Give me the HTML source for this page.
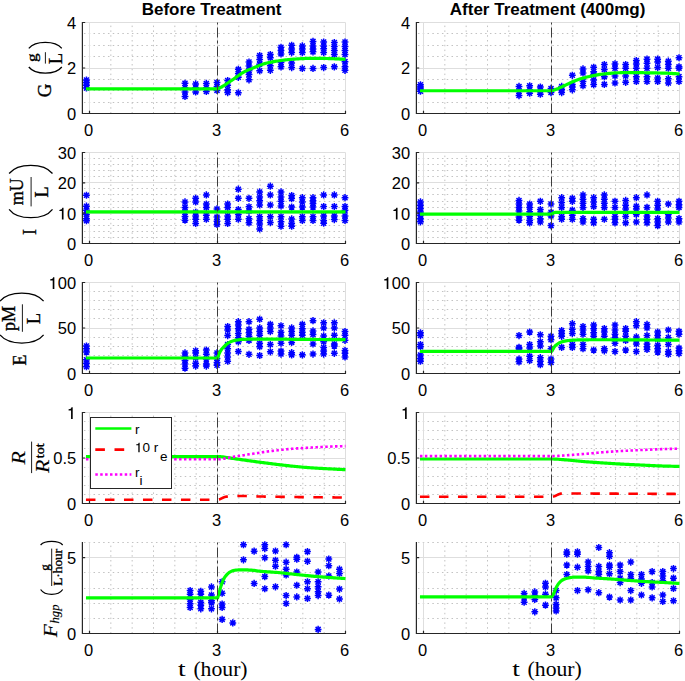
<!DOCTYPE html>
<html><head><meta charset="utf-8"><style>
html,body{margin:0;padding:0;background:#fff;width:685px;height:681px;overflow:hidden}
svg{display:block}
.tk{font-family:"Liberation Sans",sans-serif;font-size:16.5px;fill:#000}
.ttl{font-family:"Liberation Sans",sans-serif;font-size:17px;font-weight:bold;fill:#000}
.tx{font-family:"Liberation Serif",serif;fill:#000;stroke:#000;stroke-width:0.35px}
.tx2{font-family:"Liberation Serif",serif;fill:#000}
.lg{font-family:"Liberation Sans",sans-serif;font-size:13.5px;fill:#000}
</style></head><body>
<svg width="685" height="681" viewBox="0 0 685 681">
<defs><path id="m" d="M-3.4,0H3.4M0,-3.6V3.6M-2.5,-2.5L2.5,2.5M-2.5,2.5L2.5,-2.5" stroke="#0000ff" stroke-width="1.5" fill="none"/></defs>
<rect width="685" height="681" fill="#fff"/>
<path d="M82.39,102.50H345.50M82.39,90.50H345.50M82.39,79.50H345.50M82.39,56.50H345.50M82.39,45.50H345.50M82.39,33.50H345.50" stroke="#c2c2c2" stroke-width="1" stroke-dasharray="1.5 3.3" stroke-dashoffset="-1.55" fill="none"/>
<path d="M110.83,113.50V22.50M132.17,113.50V22.50M153.50,113.50V22.50M174.83,113.50V22.50M196.17,113.50V22.50M238.83,113.50V22.50M260.17,113.50V22.50M281.50,113.50V22.50M302.83,113.50V22.50M324.17,113.50V22.50" stroke="#c2c2c2" stroke-width="1" stroke-dasharray="1.5 3.3" fill="none"/>
<path d="M82.39,68.50H345.50M82.39,22.50H345.50M89.50,113.50V22.50M217.50,113.50V22.50M345.50,113.50V22.50" stroke="#dedede" stroke-width="1" fill="none"/>
<use href="#m" x="86.44" y="80.06"/><use href="#m" x="86.44" y="82.56"/><use href="#m" x="86.44" y="85.29"/><use href="#m" x="86.44" y="88.02"/><use href="#m" x="185.00" y="83.24"/><use href="#m" x="185.00" y="87.79"/><use href="#m" x="185.00" y="91.89"/><use href="#m" x="185.00" y="96.44"/><use href="#m" x="195.67" y="83.92"/><use href="#m" x="195.67" y="87.79"/><use href="#m" x="195.67" y="91.89"/><use href="#m" x="206.33" y="83.47"/><use href="#m" x="206.33" y="87.79"/><use href="#m" x="206.33" y="91.43"/><use href="#m" x="217.00" y="82.56"/><use href="#m" x="217.00" y="86.43"/><use href="#m" x="217.00" y="90.52"/><use href="#m" x="227.67" y="80.51"/><use href="#m" x="227.67" y="85.29"/><use href="#m" x="227.67" y="89.84"/><use href="#m" x="227.67" y="92.57"/><use href="#m" x="238.33" y="69.37"/><use href="#m" x="238.33" y="73.46"/><use href="#m" x="238.33" y="77.33"/><use href="#m" x="238.33" y="92.80"/><use href="#m" x="249.00" y="62.09"/><use href="#m" x="249.00" y="65.95"/><use href="#m" x="249.00" y="70.73"/><use href="#m" x="249.00" y="74.60"/><use href="#m" x="249.00" y="79.83"/><use href="#m" x="259.67" y="55.49"/><use href="#m" x="259.67" y="59.58"/><use href="#m" x="259.67" y="64.13"/><use href="#m" x="259.67" y="70.73"/><use href="#m" x="270.33" y="54.58"/><use href="#m" x="270.33" y="57.76"/><use href="#m" x="270.33" y="65.72"/><use href="#m" x="270.33" y="70.28"/><use href="#m" x="281.00" y="47.30"/><use href="#m" x="281.00" y="50.48"/><use href="#m" x="281.00" y="53.89"/><use href="#m" x="281.00" y="62.54"/><use href="#m" x="281.00" y="66.86"/><use href="#m" x="291.67" y="45.25"/><use href="#m" x="291.67" y="49.12"/><use href="#m" x="291.67" y="52.53"/><use href="#m" x="291.67" y="62.99"/><use href="#m" x="291.67" y="67.55"/><use href="#m" x="302.33" y="45.93"/><use href="#m" x="302.33" y="49.12"/><use href="#m" x="302.33" y="52.53"/><use href="#m" x="302.33" y="68.45"/><use href="#m" x="313.00" y="41.38"/><use href="#m" x="313.00" y="45.93"/><use href="#m" x="313.00" y="49.12"/><use href="#m" x="313.00" y="51.85"/><use href="#m" x="313.00" y="68.45"/><use href="#m" x="323.67" y="42.06"/><use href="#m" x="323.67" y="45.93"/><use href="#m" x="323.67" y="48.66"/><use href="#m" x="323.67" y="52.53"/><use href="#m" x="323.67" y="67.55"/><use href="#m" x="334.33" y="42.52"/><use href="#m" x="334.33" y="46.61"/><use href="#m" x="334.33" y="50.48"/><use href="#m" x="334.33" y="54.58"/><use href="#m" x="334.33" y="66.86"/><use href="#m" x="345.00" y="42.06"/><use href="#m" x="345.00" y="46.61"/><use href="#m" x="345.00" y="50.48"/><use href="#m" x="345.00" y="54.58"/><use href="#m" x="345.00" y="61.63"/><use href="#m" x="345.00" y="66.86"/><use href="#m" x="345.00" y="70.28"/>
<path d="M85.96,88.82 L87.26,88.82 L88.57,88.82 L89.87,88.82 L91.18,88.82 L92.48,88.82 L93.78,88.82 L95.09,88.82 L96.39,88.82 L97.70,88.82 L99.00,88.82 L100.31,88.82 L101.61,88.82 L102.91,88.82 L104.22,88.82 L105.52,88.82 L106.83,88.82 L108.13,88.82 L109.43,88.82 L110.74,88.82 L112.04,88.82 L113.35,88.82 L114.65,88.82 L115.96,88.82 L117.26,88.82 L118.56,88.82 L119.87,88.82 L121.17,88.82 L122.48,88.82 L123.78,88.82 L125.09,88.82 L126.39,88.82 L127.69,88.82 L129.00,88.82 L130.30,88.82 L131.61,88.82 L132.91,88.82 L134.22,88.82 L135.52,88.82 L136.82,88.82 L138.13,88.82 L139.43,88.82 L140.74,88.82 L142.04,88.82 L143.34,88.82 L144.65,88.82 L145.95,88.82 L147.26,88.82 L148.56,88.82 L149.87,88.82 L151.17,88.82 L152.47,88.82 L153.78,88.82 L155.08,88.82 L156.39,88.82 L157.69,88.82 L159.00,88.82 L160.30,88.82 L161.60,88.82 L162.91,88.82 L164.21,88.82 L165.52,88.82 L166.82,88.82 L168.13,88.82 L169.43,88.82 L170.73,88.82 L172.04,88.82 L173.34,88.82 L174.65,88.82 L175.95,88.82 L177.25,88.82 L178.56,88.82 L179.86,88.82 L181.17,88.82 L182.47,88.82 L183.78,88.82 L185.08,88.82 L186.38,88.82 L187.69,88.82 L188.99,88.82 L190.30,88.82 L191.60,88.82 L192.91,88.82 L194.21,88.82 L195.51,88.82 L196.82,88.82 L198.12,88.82 L199.43,88.82 L200.73,88.82 L202.03,88.82 L203.34,88.82 L204.64,88.82 L205.95,88.82 L207.25,88.82 L208.56,88.82 L209.86,88.82 L211.16,88.82 L212.47,88.82 L213.77,88.82 L215.08,88.82 L216.38,88.82 L217.69,88.81 L218.99,88.40 L220.29,87.67 L221.60,86.98 L222.90,86.22 L224.21,85.42 L225.51,84.57 L226.82,83.69 L228.12,82.79 L229.42,81.89 L230.73,81.01 L232.03,80.12 L233.34,79.23 L234.64,78.32 L235.94,77.41 L237.25,76.46 L238.55,75.49 L239.86,74.56 L241.16,73.70 L242.47,72.90 L243.77,72.14 L245.07,71.43 L246.38,70.77 L247.68,70.17 L248.99,69.63 L250.29,69.13 L251.60,68.64 L252.90,68.12 L254.20,67.58 L255.51,67.03 L256.81,66.47 L258.12,65.92 L259.42,65.39 L260.73,64.88 L262.03,64.41 L263.33,63.99 L264.64,63.62 L265.94,63.29 L267.25,62.97 L268.55,62.67 L269.85,62.39 L271.16,62.12 L272.46,61.86 L273.77,61.62 L275.07,61.39 L276.38,61.17 L277.68,60.97 L278.98,60.77 L280.29,60.59 L281.59,60.41 L282.90,60.24 L284.20,60.07 L285.51,59.92 L286.81,59.77 L288.11,59.62 L289.42,59.49 L290.72,59.37 L292.03,59.26 L293.33,59.16 L294.64,59.08 L295.94,58.99 L297.24,58.90 L298.55,58.82 L299.85,58.74 L301.16,58.67 L302.46,58.60 L303.76,58.54 L305.07,58.50 L306.37,58.46 L307.68,58.45 L308.98,58.45 L310.29,58.45 L311.59,58.45 L312.89,58.45 L314.20,58.45 L315.50,58.45 L316.81,58.45 L318.11,58.45 L319.42,58.45 L320.72,58.45 L322.02,58.45 L323.33,58.45 L324.63,58.46 L325.94,58.48 L327.24,58.51 L328.55,58.54 L329.85,58.59 L331.15,58.64 L332.46,58.69 L333.76,58.74 L335.07,58.80 L336.37,58.86 L337.67,58.91 L338.98,58.97 L340.28,59.04 L341.59,59.11 L342.89,59.19 L344.20,59.27 L345.50,59.36" stroke="#00ff00" stroke-width="3.2" fill="none"/>
<path d="M217.50,113.50V22.50" stroke="#3c3c3c" stroke-width="1" stroke-dasharray="10 3 3 3" fill="none"/>
<path d="M82.39,22.00V113.50H346.00" stroke="#262626" stroke-width="1.2" fill="none"/>
<path d="M82.39,113.50h2.8M82.39,68.00h2.8M82.39,22.50h2.8M89.50,113.50v-2.8M217.50,113.50v-2.8M345.50,113.50v-2.8" stroke="#262626" stroke-width="1.2" fill="none"/>
<text x="76.19" y="119.90" text-anchor="end" class="tk">0</text>
<text x="76.19" y="74.40" text-anchor="end" class="tk">2</text>
<text x="76.19" y="28.90" text-anchor="end" class="tk">4</text>
<text x="88.70" y="135.90" text-anchor="middle" class="tk">0</text>
<text x="216.70" y="135.90" text-anchor="middle" class="tk">3</text>
<text x="344.70" y="135.90" text-anchor="middle" class="tk">6</text>
<path d="M416.39,102.50H679.50M416.39,90.50H679.50M416.39,79.50H679.50M416.39,56.50H679.50M416.39,45.50H679.50M416.39,33.50H679.50" stroke="#c2c2c2" stroke-width="1" stroke-dasharray="1.5 3.3" stroke-dashoffset="-1.55" fill="none"/>
<path d="M444.83,113.50V22.50M466.17,113.50V22.50M487.50,113.50V22.50M508.83,113.50V22.50M530.17,113.50V22.50M572.83,113.50V22.50M594.17,113.50V22.50M615.50,113.50V22.50M636.83,113.50V22.50M658.17,113.50V22.50" stroke="#c2c2c2" stroke-width="1" stroke-dasharray="1.5 3.3" fill="none"/>
<path d="M416.39,68.50H679.50M416.39,22.50H679.50M423.50,113.50V22.50M551.50,113.50V22.50M679.50,113.50V22.50" stroke="#dedede" stroke-width="1" fill="none"/>
<use href="#m" x="420.44" y="84.84"/><use href="#m" x="420.44" y="86.88"/><use href="#m" x="420.44" y="88.93"/><use href="#m" x="420.44" y="91.20"/><use href="#m" x="519.00" y="86.43"/><use href="#m" x="519.00" y="91.43"/><use href="#m" x="519.00" y="95.53"/><use href="#m" x="529.67" y="85.75"/><use href="#m" x="529.67" y="89.84"/><use href="#m" x="529.67" y="93.25"/><use href="#m" x="540.33" y="87.11"/><use href="#m" x="540.33" y="90.75"/><use href="#m" x="540.33" y="94.16"/><use href="#m" x="551.00" y="88.47"/><use href="#m" x="551.00" y="92.57"/><use href="#m" x="561.67" y="86.43"/><use href="#m" x="561.67" y="89.84"/><use href="#m" x="561.67" y="92.57"/><use href="#m" x="572.33" y="75.28"/><use href="#m" x="572.33" y="84.38"/><use href="#m" x="572.33" y="87.11"/><use href="#m" x="572.33" y="89.84"/><use href="#m" x="583.00" y="68.91"/><use href="#m" x="583.00" y="73.00"/><use href="#m" x="583.00" y="81.42"/><use href="#m" x="583.00" y="85.75"/><use href="#m" x="593.67" y="67.32"/><use href="#m" x="593.67" y="71.64"/><use href="#m" x="593.67" y="74.60"/><use href="#m" x="593.67" y="80.06"/><use href="#m" x="593.67" y="84.61"/><use href="#m" x="604.33" y="64.59"/><use href="#m" x="604.33" y="69.59"/><use href="#m" x="604.33" y="76.64"/><use href="#m" x="604.33" y="84.38"/><use href="#m" x="615.00" y="63.90"/><use href="#m" x="615.00" y="68.23"/><use href="#m" x="615.00" y="75.96"/><use href="#m" x="615.00" y="83.02"/><use href="#m" x="625.67" y="64.59"/><use href="#m" x="625.67" y="68.23"/><use href="#m" x="625.67" y="75.96"/><use href="#m" x="625.67" y="82.33"/><use href="#m" x="636.33" y="60.49"/><use href="#m" x="636.33" y="63.90"/><use href="#m" x="636.33" y="68.23"/><use href="#m" x="636.33" y="76.64"/><use href="#m" x="636.33" y="81.42"/><use href="#m" x="647.00" y="59.13"/><use href="#m" x="647.00" y="63.22"/><use href="#m" x="647.00" y="68.23"/><use href="#m" x="647.00" y="76.64"/><use href="#m" x="647.00" y="81.42"/><use href="#m" x="657.67" y="59.13"/><use href="#m" x="657.67" y="62.09"/><use href="#m" x="657.67" y="67.55"/><use href="#m" x="657.67" y="78.01"/><use href="#m" x="657.67" y="81.42"/><use href="#m" x="668.33" y="61.18"/><use href="#m" x="668.33" y="64.59"/><use href="#m" x="668.33" y="68.23"/><use href="#m" x="668.33" y="78.69"/><use href="#m" x="668.33" y="83.02"/><use href="#m" x="679.00" y="57.76"/><use href="#m" x="679.00" y="66.86"/><use href="#m" x="679.00" y="68.23"/><use href="#m" x="679.00" y="76.64"/><use href="#m" x="679.00" y="81.42"/>
<path d="M419.96,90.75 L421.26,90.75 L422.57,90.75 L423.87,90.75 L425.18,90.75 L426.48,90.75 L427.78,90.75 L429.09,90.75 L430.39,90.75 L431.70,90.75 L433.00,90.75 L434.31,90.75 L435.61,90.75 L436.91,90.75 L438.22,90.75 L439.52,90.75 L440.83,90.75 L442.13,90.75 L443.43,90.75 L444.74,90.75 L446.04,90.75 L447.35,90.75 L448.65,90.75 L449.96,90.75 L451.26,90.75 L452.56,90.75 L453.87,90.75 L455.17,90.75 L456.48,90.75 L457.78,90.75 L459.09,90.75 L460.39,90.75 L461.69,90.75 L463.00,90.75 L464.30,90.75 L465.61,90.75 L466.91,90.75 L468.22,90.75 L469.52,90.75 L470.82,90.75 L472.13,90.75 L473.43,90.75 L474.74,90.75 L476.04,90.75 L477.34,90.75 L478.65,90.75 L479.95,90.75 L481.26,90.75 L482.56,90.75 L483.87,90.75 L485.17,90.75 L486.47,90.75 L487.78,90.75 L489.08,90.75 L490.39,90.75 L491.69,90.75 L493.00,90.75 L494.30,90.75 L495.60,90.75 L496.91,90.75 L498.21,90.75 L499.52,90.75 L500.82,90.75 L502.13,90.75 L503.43,90.75 L504.73,90.75 L506.04,90.75 L507.34,90.75 L508.65,90.75 L509.95,90.75 L511.25,90.75 L512.56,90.75 L513.86,90.75 L515.17,90.75 L516.47,90.75 L517.78,90.75 L519.08,90.75 L520.38,90.75 L521.69,90.75 L522.99,90.75 L524.30,90.75 L525.60,90.75 L526.91,90.75 L528.21,90.75 L529.51,90.75 L530.82,90.75 L532.12,90.75 L533.43,90.75 L534.73,90.75 L536.03,90.75 L537.34,90.75 L538.64,90.75 L539.95,90.75 L541.25,90.75 L542.56,90.75 L543.86,90.75 L545.16,90.75 L546.47,90.75 L547.77,90.75 L549.08,90.75 L550.38,90.75 L551.69,90.75 L552.99,90.54 L554.29,90.09 L555.60,89.54 L556.90,88.99 L558.21,88.46 L559.51,87.89 L560.82,87.28 L562.12,86.68 L563.42,86.07 L564.73,85.46 L566.03,84.84 L567.34,84.23 L568.64,83.61 L569.94,82.98 L571.25,82.36 L572.55,81.77 L573.86,81.21 L575.16,80.66 L576.47,80.14 L577.77,79.66 L579.07,79.24 L580.38,78.86 L581.68,78.50 L582.99,78.15 L584.29,77.79 L585.60,77.43 L586.90,77.08 L588.20,76.75 L589.51,76.43 L590.81,76.13 L592.12,75.84 L593.42,75.57 L594.73,75.31 L596.03,75.07 L597.33,74.84 L598.64,74.63 L599.94,74.44 L601.25,74.27 L602.55,74.12 L603.85,73.97 L605.16,73.84 L606.46,73.70 L607.77,73.56 L609.07,73.43 L610.38,73.30 L611.68,73.18 L612.98,73.07 L614.29,72.97 L615.59,72.88 L616.90,72.82 L618.20,72.77 L619.51,72.74 L620.81,72.70 L622.11,72.67 L623.42,72.64 L624.72,72.62 L626.03,72.60 L627.33,72.58 L628.64,72.56 L629.94,72.55 L631.24,72.55 L632.55,72.55 L633.85,72.56 L635.16,72.57 L636.46,72.59 L637.76,72.62 L639.07,72.64 L640.37,72.67 L641.68,72.70 L642.98,72.72 L644.29,72.75 L645.59,72.77 L646.89,72.79 L648.20,72.81 L649.50,72.83 L650.81,72.85 L652.11,72.87 L653.42,72.89 L654.72,72.91 L656.02,72.93 L657.33,72.95 L658.63,72.98 L659.94,73.01 L661.24,73.04 L662.55,73.08 L663.85,73.12 L665.15,73.17 L666.46,73.22 L667.76,73.27 L669.07,73.33 L670.37,73.39 L671.67,73.46 L672.98,73.53 L674.28,73.60 L675.59,73.68 L676.89,73.75 L678.20,73.83 L679.50,73.91" stroke="#00ff00" stroke-width="3.2" fill="none"/>
<path d="M551.50,113.50V22.50" stroke="#3c3c3c" stroke-width="1" stroke-dasharray="10 3 3 3" fill="none"/>
<path d="M416.39,22.00V113.50H680.00" stroke="#262626" stroke-width="1.2" fill="none"/>
<path d="M416.39,113.50h2.8M416.39,68.00h2.8M416.39,22.50h2.8M423.50,113.50v-2.8M551.50,113.50v-2.8M679.50,113.50v-2.8" stroke="#262626" stroke-width="1.2" fill="none"/>
<text x="410.19" y="119.90" text-anchor="end" class="tk">0</text>
<text x="410.19" y="74.40" text-anchor="end" class="tk">2</text>
<text x="410.19" y="28.90" text-anchor="end" class="tk">4</text>
<text x="422.70" y="135.90" text-anchor="middle" class="tk">0</text>
<text x="550.70" y="135.90" text-anchor="middle" class="tk">3</text>
<text x="678.70" y="135.90" text-anchor="middle" class="tk">6</text>
<path d="M82.39,237.50H345.50M82.39,231.50H345.50M82.39,225.50H345.50M82.39,219.50H345.50M82.39,207.50H345.50M82.39,201.50H345.50M82.39,194.50H345.50M82.39,188.50H345.50M82.39,176.50H345.50M82.39,170.50H345.50M82.39,164.50H345.50M82.39,158.50H345.50" stroke="#c2c2c2" stroke-width="1" stroke-dasharray="1.5 3.3" stroke-dashoffset="-1.55" fill="none"/>
<path d="M110.83,243.50V152.50M132.17,243.50V152.50M153.50,243.50V152.50M174.83,243.50V152.50M196.17,243.50V152.50M238.83,243.50V152.50M260.17,243.50V152.50M281.50,243.50V152.50M302.83,243.50V152.50M324.17,243.50V152.50" stroke="#c2c2c2" stroke-width="1" stroke-dasharray="1.5 3.3" fill="none"/>
<path d="M82.39,213.50H345.50M82.39,182.50H345.50M82.39,152.50H345.50M89.50,243.50V152.50M217.50,243.50V152.50M345.50,243.50V152.50" stroke="#dedede" stroke-width="1" fill="none"/>
<use href="#m" x="86.44" y="195.27"/><use href="#m" x="86.44" y="206.19"/><use href="#m" x="86.44" y="210.13"/><use href="#m" x="86.44" y="214.38"/><use href="#m" x="86.44" y="218.63"/><use href="#m" x="86.44" y="220.75"/><use href="#m" x="185.00" y="201.94"/><use href="#m" x="185.00" y="207.40"/><use href="#m" x="185.00" y="212.26"/><use href="#m" x="185.00" y="216.50"/><use href="#m" x="185.00" y="220.14"/><use href="#m" x="195.67" y="198.30"/><use href="#m" x="195.67" y="201.94"/><use href="#m" x="195.67" y="212.26"/><use href="#m" x="195.67" y="215.90"/><use href="#m" x="195.67" y="219.23"/><use href="#m" x="195.67" y="223.48"/><use href="#m" x="206.33" y="194.97"/><use href="#m" x="206.33" y="204.07"/><use href="#m" x="206.33" y="207.40"/><use href="#m" x="206.33" y="215.29"/><use href="#m" x="206.33" y="219.23"/><use href="#m" x="217.00" y="208.92"/><use href="#m" x="217.00" y="217.11"/><use href="#m" x="217.00" y="221.36"/><use href="#m" x="217.00" y="224.39"/><use href="#m" x="227.67" y="204.07"/><use href="#m" x="227.67" y="207.40"/><use href="#m" x="227.67" y="215.90"/><use href="#m" x="227.67" y="219.23"/><use href="#m" x="227.67" y="223.48"/><use href="#m" x="238.33" y="189.20"/><use href="#m" x="238.33" y="198.30"/><use href="#m" x="238.33" y="209.53"/><use href="#m" x="238.33" y="214.38"/><use href="#m" x="238.33" y="219.23"/><use href="#m" x="249.00" y="198.30"/><use href="#m" x="249.00" y="206.80"/><use href="#m" x="249.00" y="211.04"/><use href="#m" x="249.00" y="218.63"/><use href="#m" x="249.00" y="222.87"/><use href="#m" x="259.67" y="191.93"/><use href="#m" x="259.67" y="197.09"/><use href="#m" x="259.67" y="200.73"/><use href="#m" x="259.67" y="204.98"/><use href="#m" x="259.67" y="216.81"/><use href="#m" x="259.67" y="220.45"/><use href="#m" x="259.67" y="224.09"/><use href="#m" x="259.67" y="228.94"/><use href="#m" x="270.33" y="186.17"/><use href="#m" x="270.33" y="194.97"/><use href="#m" x="270.33" y="204.98"/><use href="#m" x="270.33" y="216.81"/><use href="#m" x="270.33" y="222.57"/><use href="#m" x="281.00" y="191.93"/><use href="#m" x="281.00" y="197.09"/><use href="#m" x="281.00" y="201.34"/><use href="#m" x="281.00" y="205.89"/><use href="#m" x="281.00" y="216.81"/><use href="#m" x="281.00" y="221.66"/><use href="#m" x="281.00" y="226.21"/><use href="#m" x="291.67" y="195.57"/><use href="#m" x="291.67" y="198.61"/><use href="#m" x="291.67" y="207.10"/><use href="#m" x="291.67" y="218.93"/><use href="#m" x="291.67" y="223.18"/><use href="#m" x="291.67" y="226.21"/><use href="#m" x="302.33" y="197.70"/><use href="#m" x="302.33" y="201.94"/><use href="#m" x="302.33" y="207.10"/><use href="#m" x="302.33" y="216.81"/><use href="#m" x="302.33" y="220.45"/><use href="#m" x="313.00" y="197.70"/><use href="#m" x="313.00" y="200.73"/><use href="#m" x="313.00" y="203.46"/><use href="#m" x="313.00" y="207.10"/><use href="#m" x="313.00" y="216.81"/><use href="#m" x="313.00" y="220.45"/><use href="#m" x="323.67" y="194.97"/><use href="#m" x="323.67" y="206.49"/><use href="#m" x="323.67" y="215.90"/><use href="#m" x="323.67" y="220.45"/><use href="#m" x="323.67" y="223.18"/><use href="#m" x="334.33" y="194.97"/><use href="#m" x="334.33" y="206.49"/><use href="#m" x="334.33" y="215.90"/><use href="#m" x="334.33" y="219.54"/><use href="#m" x="345.00" y="197.70"/><use href="#m" x="345.00" y="206.49"/><use href="#m" x="345.00" y="210.13"/><use href="#m" x="345.00" y="215.90"/><use href="#m" x="345.00" y="220.45"/>
<path d="M85.96,211.80 L87.26,211.80 L88.57,211.80 L89.87,211.80 L91.18,211.80 L92.48,211.80 L93.78,211.80 L95.09,211.80 L96.39,211.80 L97.70,211.80 L99.00,211.80 L100.31,211.80 L101.61,211.80 L102.91,211.80 L104.22,211.80 L105.52,211.80 L106.83,211.80 L108.13,211.80 L109.43,211.80 L110.74,211.80 L112.04,211.80 L113.35,211.80 L114.65,211.80 L115.96,211.80 L117.26,211.80 L118.56,211.80 L119.87,211.80 L121.17,211.80 L122.48,211.80 L123.78,211.80 L125.09,211.80 L126.39,211.80 L127.69,211.80 L129.00,211.80 L130.30,211.80 L131.61,211.80 L132.91,211.80 L134.22,211.80 L135.52,211.80 L136.82,211.80 L138.13,211.80 L139.43,211.80 L140.74,211.80 L142.04,211.80 L143.34,211.80 L144.65,211.80 L145.95,211.80 L147.26,211.80 L148.56,211.80 L149.87,211.80 L151.17,211.80 L152.47,211.80 L153.78,211.80 L155.08,211.80 L156.39,211.80 L157.69,211.80 L159.00,211.80 L160.30,211.80 L161.60,211.80 L162.91,211.80 L164.21,211.80 L165.52,211.80 L166.82,211.80 L168.13,211.80 L169.43,211.80 L170.73,211.80 L172.04,211.80 L173.34,211.80 L174.65,211.80 L175.95,211.80 L177.25,211.80 L178.56,211.80 L179.86,211.80 L181.17,211.80 L182.47,211.80 L183.78,211.80 L185.08,211.80 L186.38,211.80 L187.69,211.80 L188.99,211.80 L190.30,211.80 L191.60,211.80 L192.91,211.80 L194.21,211.80 L195.51,211.80 L196.82,211.80 L198.12,211.80 L199.43,211.80 L200.73,211.80 L202.03,211.80 L203.34,211.80 L204.64,211.80 L205.95,211.80 L207.25,211.80 L208.56,211.80 L209.86,211.80 L211.16,211.80 L212.47,211.80 L213.77,211.80 L215.08,211.80 L216.38,211.80 L217.69,211.80 L218.99,211.80 L220.29,211.80 L221.60,211.80 L222.90,211.80 L224.21,211.80 L225.51,211.80 L226.82,211.80 L228.12,211.80 L229.42,211.80 L230.73,211.80 L232.03,211.80 L233.34,211.80 L234.64,211.80 L235.94,211.80 L237.25,211.80 L238.55,211.80 L239.86,211.80 L241.16,211.80 L242.47,211.80 L243.77,211.80 L245.07,211.80 L246.38,211.80 L247.68,211.80 L248.99,211.80 L250.29,211.80 L251.60,211.80 L252.90,211.80 L254.20,211.80 L255.51,211.80 L256.81,211.80 L258.12,211.80 L259.42,211.80 L260.73,211.80 L262.03,211.80 L263.33,211.80 L264.64,211.80 L265.94,211.80 L267.25,211.80 L268.55,211.80 L269.85,211.80 L271.16,211.80 L272.46,211.80 L273.77,211.80 L275.07,211.80 L276.38,211.80 L277.68,211.80 L278.98,211.80 L280.29,211.80 L281.59,211.80 L282.90,211.80 L284.20,211.80 L285.51,211.80 L286.81,211.80 L288.11,211.80 L289.42,211.80 L290.72,211.80 L292.03,211.80 L293.33,211.80 L294.64,211.80 L295.94,211.80 L297.24,211.80 L298.55,211.80 L299.85,211.80 L301.16,211.80 L302.46,211.80 L303.76,211.80 L305.07,211.80 L306.37,211.80 L307.68,211.80 L308.98,211.80 L310.29,211.80 L311.59,211.80 L312.89,211.80 L314.20,211.80 L315.50,211.80 L316.81,211.80 L318.11,211.80 L319.42,211.80 L320.72,211.80 L322.02,211.80 L323.33,211.80 L324.63,211.80 L325.94,211.80 L327.24,211.80 L328.55,211.80 L329.85,211.80 L331.15,211.80 L332.46,211.80 L333.76,211.80 L335.07,211.80 L336.37,211.80 L337.67,211.80 L338.98,211.80 L340.28,211.80 L341.59,211.80 L342.89,211.80 L344.20,211.80 L345.50,211.80" stroke="#00ff00" stroke-width="3.2" fill="none"/>
<path d="M217.50,243.50V152.50" stroke="#3c3c3c" stroke-width="1" stroke-dasharray="10 3 3 3" fill="none"/>
<path d="M82.39,152.00V243.50H346.00" stroke="#262626" stroke-width="1.2" fill="none"/>
<path d="M82.39,243.50h2.8M82.39,213.17h2.8M82.39,182.83h2.8M82.39,152.50h2.8M89.50,243.50v-2.8M217.50,243.50v-2.8M345.50,243.50v-2.8" stroke="#262626" stroke-width="1.2" fill="none"/>
<text x="76.19" y="249.90" text-anchor="end" class="tk">0</text>
<path transform="translate(57.84,219.57) scale(0.01650,-0.01650)" d="M245,0H345V709H272C256,640 220,592 95,584V516H245Z" fill="#000"/>
<text x="76.19" y="219.57" text-anchor="end" class="tk">0</text>
<text x="76.19" y="189.23" text-anchor="end" class="tk">20</text>
<text x="76.19" y="158.90" text-anchor="end" class="tk">30</text>
<text x="88.70" y="265.90" text-anchor="middle" class="tk">0</text>
<text x="216.70" y="265.90" text-anchor="middle" class="tk">3</text>
<text x="344.70" y="265.90" text-anchor="middle" class="tk">6</text>
<path d="M416.39,237.50H679.50M416.39,231.50H679.50M416.39,225.50H679.50M416.39,219.50H679.50M416.39,207.50H679.50M416.39,201.50H679.50M416.39,194.50H679.50M416.39,188.50H679.50M416.39,176.50H679.50M416.39,170.50H679.50M416.39,164.50H679.50M416.39,158.50H679.50" stroke="#c2c2c2" stroke-width="1" stroke-dasharray="1.5 3.3" stroke-dashoffset="-1.55" fill="none"/>
<path d="M444.83,243.50V152.50M466.17,243.50V152.50M487.50,243.50V152.50M508.83,243.50V152.50M530.17,243.50V152.50M572.83,243.50V152.50M594.17,243.50V152.50M615.50,243.50V152.50M636.83,243.50V152.50M658.17,243.50V152.50" stroke="#c2c2c2" stroke-width="1" stroke-dasharray="1.5 3.3" fill="none"/>
<path d="M416.39,213.50H679.50M416.39,182.50H679.50M416.39,152.50H679.50M423.50,243.50V152.50M551.50,243.50V152.50M679.50,243.50V152.50" stroke="#dedede" stroke-width="1" fill="none"/>
<use href="#m" x="420.44" y="201.94"/><use href="#m" x="420.44" y="205.28"/><use href="#m" x="420.44" y="208.62"/><use href="#m" x="420.44" y="211.95"/><use href="#m" x="420.44" y="215.29"/><use href="#m" x="420.44" y="218.63"/><use href="#m" x="420.44" y="221.81"/><use href="#m" x="519.00" y="200.43"/><use href="#m" x="519.00" y="204.07"/><use href="#m" x="519.00" y="207.40"/><use href="#m" x="519.00" y="211.04"/><use href="#m" x="519.00" y="217.11"/><use href="#m" x="519.00" y="220.14"/><use href="#m" x="529.67" y="204.07"/><use href="#m" x="529.67" y="207.40"/><use href="#m" x="529.67" y="211.65"/><use href="#m" x="529.67" y="216.50"/><use href="#m" x="529.67" y="220.14"/><use href="#m" x="529.67" y="222.87"/><use href="#m" x="540.33" y="201.34"/><use href="#m" x="540.33" y="209.53"/><use href="#m" x="540.33" y="213.17"/><use href="#m" x="540.33" y="218.63"/><use href="#m" x="540.33" y="221.96"/><use href="#m" x="551.00" y="204.07"/><use href="#m" x="551.00" y="212.26"/><use href="#m" x="551.00" y="215.90"/><use href="#m" x="551.00" y="225.60"/><use href="#m" x="561.67" y="197.70"/><use href="#m" x="561.67" y="202.55"/><use href="#m" x="561.67" y="207.40"/><use href="#m" x="561.67" y="216.50"/><use href="#m" x="561.67" y="219.23"/><use href="#m" x="572.33" y="198.30"/><use href="#m" x="572.33" y="201.34"/><use href="#m" x="572.33" y="210.13"/><use href="#m" x="572.33" y="215.29"/><use href="#m" x="572.33" y="219.23"/><use href="#m" x="583.00" y="194.97"/><use href="#m" x="583.00" y="199.21"/><use href="#m" x="583.00" y="203.16"/><use href="#m" x="583.00" y="207.40"/><use href="#m" x="583.00" y="218.63"/><use href="#m" x="583.00" y="221.96"/><use href="#m" x="593.67" y="197.70"/><use href="#m" x="593.67" y="201.94"/><use href="#m" x="593.67" y="206.49"/><use href="#m" x="593.67" y="219.23"/><use href="#m" x="593.67" y="222.87"/><use href="#m" x="604.33" y="194.97"/><use href="#m" x="604.33" y="199.21"/><use href="#m" x="604.33" y="203.16"/><use href="#m" x="604.33" y="207.40"/><use href="#m" x="604.33" y="219.23"/><use href="#m" x="615.00" y="201.34"/><use href="#m" x="615.00" y="207.40"/><use href="#m" x="615.00" y="216.50"/><use href="#m" x="615.00" y="219.23"/><use href="#m" x="615.00" y="222.87"/><use href="#m" x="625.67" y="200.43"/><use href="#m" x="625.67" y="205.28"/><use href="#m" x="625.67" y="208.92"/><use href="#m" x="625.67" y="216.50"/><use href="#m" x="625.67" y="222.87"/><use href="#m" x="636.33" y="197.70"/><use href="#m" x="636.33" y="206.19"/><use href="#m" x="636.33" y="208.92"/><use href="#m" x="636.33" y="214.38"/><use href="#m" x="636.33" y="221.96"/><use href="#m" x="647.00" y="194.97"/><use href="#m" x="647.00" y="207.40"/><use href="#m" x="647.00" y="215.90"/><use href="#m" x="647.00" y="219.23"/><use href="#m" x="647.00" y="222.87"/><use href="#m" x="657.67" y="201.34"/><use href="#m" x="657.67" y="205.28"/><use href="#m" x="657.67" y="208.92"/><use href="#m" x="657.67" y="218.63"/><use href="#m" x="657.67" y="221.96"/><use href="#m" x="657.67" y="225.60"/><use href="#m" x="668.33" y="204.07"/><use href="#m" x="668.33" y="214.38"/><use href="#m" x="668.33" y="218.02"/><use href="#m" x="668.33" y="221.96"/><use href="#m" x="679.00" y="201.34"/><use href="#m" x="679.00" y="204.67"/><use href="#m" x="679.00" y="207.40"/><use href="#m" x="679.00" y="218.63"/><use href="#m" x="679.00" y="221.96"/>
<path d="M419.96,214.08 L421.26,214.08 L422.57,214.08 L423.87,214.08 L425.18,214.08 L426.48,214.08 L427.78,214.08 L429.09,214.08 L430.39,214.08 L431.70,214.08 L433.00,214.08 L434.31,214.08 L435.61,214.08 L436.91,214.08 L438.22,214.08 L439.52,214.08 L440.83,214.08 L442.13,214.08 L443.43,214.08 L444.74,214.08 L446.04,214.08 L447.35,214.08 L448.65,214.08 L449.96,214.08 L451.26,214.08 L452.56,214.08 L453.87,214.08 L455.17,214.08 L456.48,214.08 L457.78,214.08 L459.09,214.08 L460.39,214.08 L461.69,214.08 L463.00,214.08 L464.30,214.08 L465.61,214.08 L466.91,214.08 L468.22,214.08 L469.52,214.08 L470.82,214.08 L472.13,214.08 L473.43,214.08 L474.74,214.08 L476.04,214.08 L477.34,214.08 L478.65,214.08 L479.95,214.08 L481.26,214.08 L482.56,214.08 L483.87,214.08 L485.17,214.08 L486.47,214.08 L487.78,214.08 L489.08,214.08 L490.39,214.08 L491.69,214.08 L493.00,214.08 L494.30,214.08 L495.60,214.08 L496.91,214.08 L498.21,214.08 L499.52,214.08 L500.82,214.08 L502.13,214.08 L503.43,214.08 L504.73,214.08 L506.04,214.08 L507.34,214.08 L508.65,214.08 L509.95,214.08 L511.25,214.08 L512.56,214.08 L513.86,214.08 L515.17,214.08 L516.47,214.08 L517.78,214.08 L519.08,214.08 L520.38,214.08 L521.69,214.08 L522.99,214.08 L524.30,214.08 L525.60,214.08 L526.91,214.08 L528.21,214.08 L529.51,214.08 L530.82,214.08 L532.12,214.08 L533.43,214.08 L534.73,214.08 L536.03,214.08 L537.34,214.08 L538.64,214.08 L539.95,214.08 L541.25,214.08 L542.56,214.08 L543.86,214.08 L545.16,214.08 L546.47,214.08 L547.77,214.08 L549.08,214.08 L550.38,214.08 L551.69,214.05 L552.99,213.21 L554.29,212.60 L555.60,212.43 L556.90,212.34 L558.21,212.32 L559.51,212.32 L560.82,212.32 L562.12,212.32 L563.42,212.32 L564.73,212.32 L566.03,212.32 L567.34,212.32 L568.64,212.32 L569.94,212.32 L571.25,212.32 L572.55,212.32 L573.86,212.32 L575.16,212.32 L576.47,212.32 L577.77,212.32 L579.07,212.32 L580.38,212.32 L581.68,212.32 L582.99,212.32 L584.29,212.32 L585.60,212.32 L586.90,212.32 L588.20,212.32 L589.51,212.32 L590.81,212.32 L592.12,212.32 L593.42,212.32 L594.73,212.32 L596.03,212.32 L597.33,212.32 L598.64,212.32 L599.94,212.32 L601.25,212.32 L602.55,212.32 L603.85,212.32 L605.16,212.32 L606.46,212.32 L607.77,212.32 L609.07,212.32 L610.38,212.32 L611.68,212.32 L612.98,212.32 L614.29,212.32 L615.59,212.32 L616.90,212.32 L618.20,212.32 L619.51,212.32 L620.81,212.32 L622.11,212.32 L623.42,212.32 L624.72,212.32 L626.03,212.32 L627.33,212.32 L628.64,212.32 L629.94,212.32 L631.24,212.32 L632.55,212.32 L633.85,212.32 L635.16,212.32 L636.46,212.32 L637.76,212.32 L639.07,212.32 L640.37,212.32 L641.68,212.32 L642.98,212.32 L644.29,212.32 L645.59,212.32 L646.89,212.32 L648.20,212.32 L649.50,212.32 L650.81,212.32 L652.11,212.32 L653.42,212.32 L654.72,212.32 L656.02,212.32 L657.33,212.32 L658.63,212.32 L659.94,212.32 L661.24,212.32 L662.55,212.32 L663.85,212.32 L665.15,212.32 L666.46,212.32 L667.76,212.32 L669.07,212.32 L670.37,212.32 L671.67,212.32 L672.98,212.32 L674.28,212.32 L675.59,212.32 L676.89,212.32 L678.20,212.32 L679.50,212.32" stroke="#00ff00" stroke-width="3.2" fill="none"/>
<path d="M551.50,243.50V152.50" stroke="#3c3c3c" stroke-width="1" stroke-dasharray="10 3 3 3" fill="none"/>
<path d="M416.39,152.00V243.50H680.00" stroke="#262626" stroke-width="1.2" fill="none"/>
<path d="M416.39,243.50h2.8M416.39,213.17h2.8M416.39,182.83h2.8M416.39,152.50h2.8M423.50,243.50v-2.8M551.50,243.50v-2.8M679.50,243.50v-2.8" stroke="#262626" stroke-width="1.2" fill="none"/>
<text x="410.19" y="249.90" text-anchor="end" class="tk">0</text>
<path transform="translate(391.84,219.57) scale(0.01650,-0.01650)" d="M245,0H345V709H272C256,640 220,592 95,584V516H245Z" fill="#000"/>
<text x="410.19" y="219.57" text-anchor="end" class="tk">0</text>
<text x="410.19" y="189.23" text-anchor="end" class="tk">20</text>
<text x="410.19" y="158.90" text-anchor="end" class="tk">30</text>
<text x="422.70" y="265.90" text-anchor="middle" class="tk">0</text>
<text x="550.70" y="265.90" text-anchor="middle" class="tk">3</text>
<text x="678.70" y="265.90" text-anchor="middle" class="tk">6</text>
<path d="M82.39,364.50H345.50M82.39,355.50H345.50M82.39,346.50H345.50M82.39,337.50H345.50M82.39,318.50H345.50M82.39,309.50H345.50M82.39,300.50H345.50M82.39,291.50H345.50" stroke="#c2c2c2" stroke-width="1" stroke-dasharray="1.5 3.3" stroke-dashoffset="-1.55" fill="none"/>
<path d="M110.83,373.50V282.50M132.17,373.50V282.50M153.50,373.50V282.50M174.83,373.50V282.50M196.17,373.50V282.50M238.83,373.50V282.50M260.17,373.50V282.50M281.50,373.50V282.50M302.83,373.50V282.50M324.17,373.50V282.50" stroke="#c2c2c2" stroke-width="1" stroke-dasharray="1.5 3.3" fill="none"/>
<path d="M82.39,328.50H345.50M82.39,282.50H345.50M89.50,373.50V282.50M217.50,373.50V282.50M345.50,373.50V282.50" stroke="#dedede" stroke-width="1" fill="none"/>
<use href="#m" x="86.44" y="346.02"/><use href="#m" x="86.44" y="348.66"/><use href="#m" x="86.44" y="352.12"/><use href="#m" x="86.44" y="359.76"/><use href="#m" x="86.44" y="363.31"/><use href="#m" x="86.44" y="366.77"/><use href="#m" x="185.00" y="352.93"/><use href="#m" x="185.00" y="356.30"/><use href="#m" x="185.00" y="360.49"/><use href="#m" x="185.00" y="363.94"/><use href="#m" x="185.00" y="368.13"/><use href="#m" x="195.67" y="350.84"/><use href="#m" x="195.67" y="352.93"/><use href="#m" x="195.67" y="357.67"/><use href="#m" x="195.67" y="363.31"/><use href="#m" x="195.67" y="366.04"/><use href="#m" x="206.33" y="350.11"/><use href="#m" x="206.33" y="354.30"/><use href="#m" x="206.33" y="359.12"/><use href="#m" x="206.33" y="363.94"/><use href="#m" x="206.33" y="366.04"/><use href="#m" x="217.00" y="352.93"/><use href="#m" x="217.00" y="358.39"/><use href="#m" x="217.00" y="362.58"/><use href="#m" x="217.00" y="365.31"/><use href="#m" x="227.67" y="326.54"/><use href="#m" x="227.67" y="330.00"/><use href="#m" x="227.67" y="335.55"/><use href="#m" x="227.67" y="344.56"/><use href="#m" x="227.67" y="348.75"/><use href="#m" x="227.67" y="352.93"/><use href="#m" x="227.67" y="357.03"/><use href="#m" x="227.67" y="361.21"/><use href="#m" x="238.33" y="321.72"/><use href="#m" x="238.33" y="325.09"/><use href="#m" x="238.33" y="328.64"/><use href="#m" x="238.33" y="333.46"/><use href="#m" x="238.33" y="337.65"/><use href="#m" x="238.33" y="341.83"/><use href="#m" x="238.33" y="351.57"/><use href="#m" x="249.00" y="321.72"/><use href="#m" x="249.00" y="329.27"/><use href="#m" x="249.00" y="332.73"/><use href="#m" x="249.00" y="336.28"/><use href="#m" x="249.00" y="340.38"/><use href="#m" x="249.00" y="354.30"/><use href="#m" x="259.67" y="319.26"/><use href="#m" x="259.67" y="327.91"/><use href="#m" x="259.67" y="331.55"/><use href="#m" x="259.67" y="335.19"/><use href="#m" x="259.67" y="343.20"/><use href="#m" x="259.67" y="346.75"/><use href="#m" x="259.67" y="355.48"/><use href="#m" x="270.33" y="324.36"/><use href="#m" x="270.33" y="327.91"/><use href="#m" x="270.33" y="331.55"/><use href="#m" x="270.33" y="344.56"/><use href="#m" x="270.33" y="351.84"/><use href="#m" x="281.00" y="325.82"/><use href="#m" x="281.00" y="332.28"/><use href="#m" x="281.00" y="335.92"/><use href="#m" x="281.00" y="343.20"/><use href="#m" x="281.00" y="351.11"/><use href="#m" x="281.00" y="354.03"/><use href="#m" x="291.67" y="327.91"/><use href="#m" x="291.67" y="331.55"/><use href="#m" x="291.67" y="335.19"/><use href="#m" x="291.67" y="342.38"/><use href="#m" x="291.67" y="352.66"/><use href="#m" x="291.67" y="354.85"/><use href="#m" x="302.33" y="324.36"/><use href="#m" x="302.33" y="328.73"/><use href="#m" x="302.33" y="332.28"/><use href="#m" x="302.33" y="335.19"/><use href="#m" x="302.33" y="354.85"/><use href="#m" x="313.00" y="320.63"/><use href="#m" x="313.00" y="330.91"/><use href="#m" x="313.00" y="334.46"/><use href="#m" x="313.00" y="343.93"/><use href="#m" x="313.00" y="354.03"/><use href="#m" x="323.67" y="322.81"/><use href="#m" x="323.67" y="327.91"/><use href="#m" x="323.67" y="335.92"/><use href="#m" x="323.67" y="341.74"/><use href="#m" x="323.67" y="347.56"/><use href="#m" x="323.67" y="351.11"/><use href="#m" x="323.67" y="354.03"/><use href="#m" x="334.33" y="322.81"/><use href="#m" x="334.33" y="327.91"/><use href="#m" x="334.33" y="335.19"/><use href="#m" x="334.33" y="343.93"/><use href="#m" x="334.33" y="346.11"/><use href="#m" x="334.33" y="353.30"/><use href="#m" x="345.00" y="331.55"/><use href="#m" x="345.00" y="335.19"/><use href="#m" x="345.00" y="340.28"/><use href="#m" x="345.00" y="350.48"/><use href="#m" x="345.00" y="353.30"/><use href="#m" x="345.00" y="356.94"/>
<path d="M85.96,357.98 L87.26,357.98 L88.57,357.98 L89.87,357.98 L91.18,357.98 L92.48,357.98 L93.78,357.98 L95.09,357.98 L96.39,357.98 L97.70,357.98 L99.00,357.98 L100.31,357.98 L101.61,357.98 L102.91,357.98 L104.22,357.98 L105.52,357.98 L106.83,357.98 L108.13,357.98 L109.43,357.98 L110.74,357.98 L112.04,357.98 L113.35,357.98 L114.65,357.98 L115.96,357.98 L117.26,357.98 L118.56,357.98 L119.87,357.98 L121.17,357.98 L122.48,357.98 L123.78,357.98 L125.09,357.98 L126.39,357.98 L127.69,357.98 L129.00,357.98 L130.30,357.98 L131.61,357.98 L132.91,357.98 L134.22,357.98 L135.52,357.98 L136.82,357.98 L138.13,357.98 L139.43,357.98 L140.74,357.98 L142.04,357.98 L143.34,357.98 L144.65,357.98 L145.95,357.98 L147.26,357.98 L148.56,357.98 L149.87,357.98 L151.17,357.98 L152.47,357.98 L153.78,357.98 L155.08,357.98 L156.39,357.98 L157.69,357.98 L159.00,357.98 L160.30,357.98 L161.60,357.98 L162.91,357.98 L164.21,357.98 L165.52,357.98 L166.82,357.98 L168.13,357.98 L169.43,357.98 L170.73,357.98 L172.04,357.98 L173.34,357.98 L174.65,357.98 L175.95,357.98 L177.25,357.98 L178.56,357.98 L179.86,357.98 L181.17,357.98 L182.47,357.98 L183.78,357.98 L185.08,357.98 L186.38,357.98 L187.69,357.98 L188.99,357.98 L190.30,357.98 L191.60,357.98 L192.91,357.98 L194.21,357.98 L195.51,357.98 L196.82,357.98 L198.12,357.98 L199.43,357.98 L200.73,357.98 L202.03,357.98 L203.34,357.98 L204.64,357.98 L205.95,357.98 L207.25,357.98 L208.56,357.98 L209.86,357.98 L211.16,357.98 L212.47,357.98 L213.77,357.98 L215.08,357.98 L216.38,357.98 L217.69,357.87 L218.99,353.95 L220.29,351.28 L221.60,349.31 L222.90,347.80 L224.21,346.50 L225.51,345.25 L226.82,344.10 L228.12,343.14 L229.42,342.36 L230.73,341.68 L232.03,341.14 L233.34,340.76 L234.64,340.43 L235.94,340.17 L237.25,339.96 L238.55,339.80 L239.86,339.65 L241.16,339.51 L242.47,339.41 L243.77,339.33 L245.07,339.28 L246.38,339.24 L247.68,339.21 L248.99,339.18 L250.29,339.15 L251.60,339.13 L252.90,339.12 L254.20,339.11 L255.51,339.10 L256.81,339.10 L258.12,339.10 L259.42,339.10 L260.73,339.11 L262.03,339.11 L263.33,339.11 L264.64,339.12 L265.94,339.12 L267.25,339.13 L268.55,339.13 L269.85,339.14 L271.16,339.14 L272.46,339.15 L273.77,339.15 L275.07,339.16 L276.38,339.17 L277.68,339.17 L278.98,339.18 L280.29,339.19 L281.59,339.19 L282.90,339.20 L284.20,339.21 L285.51,339.22 L286.81,339.23 L288.11,339.24 L289.42,339.25 L290.72,339.26 L292.03,339.28 L293.33,339.29 L294.64,339.30 L295.94,339.31 L297.24,339.33 L298.55,339.34 L299.85,339.35 L301.16,339.36 L302.46,339.37 L303.76,339.38 L305.07,339.39 L306.37,339.40 L307.68,339.41 L308.98,339.42 L310.29,339.43 L311.59,339.44 L312.89,339.45 L314.20,339.46 L315.50,339.47 L316.81,339.48 L318.11,339.48 L319.42,339.49 L320.72,339.50 L322.02,339.51 L323.33,339.52 L324.63,339.53 L325.94,339.54 L327.24,339.54 L328.55,339.55 L329.85,339.56 L331.15,339.57 L332.46,339.58 L333.76,339.58 L335.07,339.59 L336.37,339.60 L337.67,339.61 L338.98,339.61 L340.28,339.62 L341.59,339.63 L342.89,339.63 L344.20,339.64 L345.50,339.65" stroke="#00ff00" stroke-width="3.2" fill="none"/>
<path d="M217.50,373.50V282.50" stroke="#3c3c3c" stroke-width="1" stroke-dasharray="10 3 3 3" fill="none"/>
<path d="M82.39,282.00V373.50H346.00" stroke="#262626" stroke-width="1.2" fill="none"/>
<path d="M82.39,373.50h2.8M82.39,328.00h2.8M82.39,282.50h2.8M89.50,373.50v-2.8M217.50,373.50v-2.8M345.50,373.50v-2.8" stroke="#262626" stroke-width="1.2" fill="none"/>
<text x="76.19" y="379.90" text-anchor="end" class="tk">0</text>
<text x="76.19" y="334.40" text-anchor="end" class="tk">50</text>
<path transform="translate(48.67,288.90) scale(0.01650,-0.01650)" d="M245,0H345V709H272C256,640 220,592 95,584V516H245Z" fill="#000"/>
<text x="76.19" y="288.90" text-anchor="end" class="tk">00</text>
<text x="88.70" y="395.90" text-anchor="middle" class="tk">0</text>
<text x="216.70" y="395.90" text-anchor="middle" class="tk">3</text>
<text x="344.70" y="395.90" text-anchor="middle" class="tk">6</text>
<path d="M416.39,364.50H679.50M416.39,355.50H679.50M416.39,346.50H679.50M416.39,337.50H679.50M416.39,318.50H679.50M416.39,309.50H679.50M416.39,300.50H679.50M416.39,291.50H679.50" stroke="#c2c2c2" stroke-width="1" stroke-dasharray="1.5 3.3" stroke-dashoffset="-1.55" fill="none"/>
<path d="M444.83,373.50V282.50M466.17,373.50V282.50M487.50,373.50V282.50M508.83,373.50V282.50M530.17,373.50V282.50M572.83,373.50V282.50M594.17,373.50V282.50M615.50,373.50V282.50M636.83,373.50V282.50M658.17,373.50V282.50" stroke="#c2c2c2" stroke-width="1" stroke-dasharray="1.5 3.3" fill="none"/>
<path d="M416.39,328.50H679.50M416.39,282.50H679.50M423.50,373.50V282.50M551.50,373.50V282.50M679.50,373.50V282.50" stroke="#dedede" stroke-width="1" fill="none"/>
<use href="#m" x="420.44" y="332.73"/><use href="#m" x="420.44" y="335.55"/><use href="#m" x="420.44" y="344.56"/><use href="#m" x="420.44" y="346.65"/><use href="#m" x="420.44" y="354.94"/><use href="#m" x="420.44" y="358.39"/><use href="#m" x="420.44" y="361.21"/><use href="#m" x="519.00" y="335.55"/><use href="#m" x="519.00" y="347.38"/><use href="#m" x="519.00" y="348.75"/><use href="#m" x="519.00" y="359.12"/><use href="#m" x="519.00" y="361.85"/><use href="#m" x="529.67" y="332.10"/><use href="#m" x="529.67" y="344.56"/><use href="#m" x="529.67" y="348.11"/><use href="#m" x="529.67" y="356.30"/><use href="#m" x="529.67" y="360.49"/><use href="#m" x="540.33" y="334.82"/><use href="#m" x="540.33" y="341.83"/><use href="#m" x="540.33" y="346.02"/><use href="#m" x="540.33" y="357.67"/><use href="#m" x="540.33" y="361.21"/><use href="#m" x="540.33" y="364.67"/><use href="#m" x="551.00" y="336.28"/><use href="#m" x="551.00" y="339.74"/><use href="#m" x="551.00" y="348.75"/><use href="#m" x="551.00" y="359.12"/><use href="#m" x="551.00" y="362.58"/><use href="#m" x="561.67" y="330.64"/><use href="#m" x="561.67" y="333.46"/><use href="#m" x="561.67" y="336.28"/><use href="#m" x="561.67" y="347.38"/><use href="#m" x="572.33" y="323.72"/><use href="#m" x="572.33" y="329.27"/><use href="#m" x="572.33" y="333.46"/><use href="#m" x="572.33" y="344.56"/><use href="#m" x="572.33" y="347.38"/><use href="#m" x="583.00" y="326.54"/><use href="#m" x="583.00" y="330.00"/><use href="#m" x="583.00" y="334.19"/><use href="#m" x="583.00" y="344.56"/><use href="#m" x="583.00" y="348.75"/><use href="#m" x="593.67" y="325.09"/><use href="#m" x="593.67" y="328.64"/><use href="#m" x="593.67" y="332.73"/><use href="#m" x="593.67" y="336.28"/><use href="#m" x="593.67" y="350.11"/><use href="#m" x="604.33" y="328.64"/><use href="#m" x="604.33" y="332.10"/><use href="#m" x="604.33" y="336.28"/><use href="#m" x="604.33" y="348.75"/><use href="#m" x="604.33" y="350.84"/><use href="#m" x="615.00" y="325.09"/><use href="#m" x="615.00" y="330.00"/><use href="#m" x="615.00" y="334.19"/><use href="#m" x="615.00" y="337.65"/><use href="#m" x="615.00" y="343.20"/><use href="#m" x="615.00" y="351.57"/><use href="#m" x="625.67" y="328.64"/><use href="#m" x="625.67" y="331.37"/><use href="#m" x="625.67" y="336.28"/><use href="#m" x="625.67" y="340.38"/><use href="#m" x="625.67" y="350.11"/><use href="#m" x="636.33" y="321.72"/><use href="#m" x="636.33" y="325.82"/><use href="#m" x="636.33" y="336.92"/><use href="#m" x="636.33" y="340.38"/><use href="#m" x="636.33" y="343.93"/><use href="#m" x="636.33" y="351.57"/><use href="#m" x="647.00" y="324.45"/><use href="#m" x="647.00" y="327.91"/><use href="#m" x="647.00" y="335.55"/><use href="#m" x="647.00" y="343.93"/><use href="#m" x="647.00" y="346.65"/><use href="#m" x="647.00" y="349.48"/><use href="#m" x="657.67" y="332.10"/><use href="#m" x="657.67" y="335.55"/><use href="#m" x="657.67" y="339.01"/><use href="#m" x="657.67" y="345.29"/><use href="#m" x="657.67" y="348.75"/><use href="#m" x="657.67" y="352.12"/><use href="#m" x="668.33" y="330.00"/><use href="#m" x="668.33" y="337.65"/><use href="#m" x="668.33" y="344.56"/><use href="#m" x="668.33" y="351.57"/><use href="#m" x="668.33" y="354.21"/><use href="#m" x="679.00" y="331.37"/><use href="#m" x="679.00" y="334.19"/><use href="#m" x="679.00" y="348.11"/><use href="#m" x="679.00" y="350.84"/><use href="#m" x="679.00" y="353.57"/>
<path d="M419.96,351.30 L421.26,351.30 L422.57,351.30 L423.87,351.30 L425.18,351.30 L426.48,351.30 L427.78,351.30 L429.09,351.30 L430.39,351.30 L431.70,351.30 L433.00,351.30 L434.31,351.30 L435.61,351.30 L436.91,351.30 L438.22,351.30 L439.52,351.30 L440.83,351.30 L442.13,351.30 L443.43,351.30 L444.74,351.30 L446.04,351.30 L447.35,351.30 L448.65,351.30 L449.96,351.30 L451.26,351.30 L452.56,351.30 L453.87,351.30 L455.17,351.30 L456.48,351.30 L457.78,351.30 L459.09,351.30 L460.39,351.30 L461.69,351.30 L463.00,351.30 L464.30,351.30 L465.61,351.30 L466.91,351.30 L468.22,351.30 L469.52,351.30 L470.82,351.30 L472.13,351.30 L473.43,351.30 L474.74,351.30 L476.04,351.30 L477.34,351.30 L478.65,351.30 L479.95,351.30 L481.26,351.30 L482.56,351.30 L483.87,351.30 L485.17,351.30 L486.47,351.30 L487.78,351.30 L489.08,351.30 L490.39,351.30 L491.69,351.30 L493.00,351.30 L494.30,351.30 L495.60,351.30 L496.91,351.30 L498.21,351.30 L499.52,351.30 L500.82,351.30 L502.13,351.30 L503.43,351.30 L504.73,351.30 L506.04,351.30 L507.34,351.30 L508.65,351.30 L509.95,351.30 L511.25,351.30 L512.56,351.30 L513.86,351.30 L515.17,351.30 L516.47,351.30 L517.78,351.30 L519.08,351.30 L520.38,351.30 L521.69,351.30 L522.99,351.30 L524.30,351.30 L525.60,351.30 L526.91,351.30 L528.21,351.30 L529.51,351.30 L530.82,351.30 L532.12,351.30 L533.43,351.30 L534.73,351.30 L536.03,351.30 L537.34,351.30 L538.64,351.30 L539.95,351.30 L541.25,351.30 L542.56,351.30 L543.86,351.30 L545.16,351.30 L546.47,351.30 L547.77,351.30 L549.08,351.30 L550.38,351.30 L551.69,351.25 L552.99,349.19 L554.29,346.92 L555.60,345.52 L556.90,344.40 L558.21,343.48 L559.51,342.71 L560.82,342.16 L562.12,341.72 L563.42,341.36 L564.73,341.07 L566.03,340.85 L567.34,340.68 L568.64,340.53 L569.94,340.41 L571.25,340.31 L572.55,340.22 L573.86,340.13 L575.16,340.06 L576.47,340.00 L577.77,339.95 L579.07,339.92 L580.38,339.89 L581.68,339.87 L582.99,339.85 L584.29,339.83 L585.60,339.81 L586.90,339.79 L588.20,339.78 L589.51,339.77 L590.81,339.76 L592.12,339.75 L593.42,339.74 L594.73,339.74 L596.03,339.74 L597.33,339.74 L598.64,339.74 L599.94,339.74 L601.25,339.74 L602.55,339.75 L603.85,339.75 L605.16,339.75 L606.46,339.76 L607.77,339.76 L609.07,339.77 L610.38,339.77 L611.68,339.78 L612.98,339.79 L614.29,339.79 L615.59,339.80 L616.90,339.81 L618.20,339.81 L619.51,339.82 L620.81,339.83 L622.11,339.84 L623.42,339.84 L624.72,339.85 L626.03,339.86 L627.33,339.87 L628.64,339.87 L629.94,339.88 L631.24,339.89 L632.55,339.90 L633.85,339.90 L635.16,339.91 L636.46,339.92 L637.76,339.93 L639.07,339.93 L640.37,339.94 L641.68,339.95 L642.98,339.95 L644.29,339.96 L645.59,339.97 L646.89,339.98 L648.20,339.98 L649.50,339.99 L650.81,340.00 L652.11,340.01 L653.42,340.02 L654.72,340.02 L656.02,340.03 L657.33,340.04 L658.63,340.05 L659.94,340.06 L661.24,340.07 L662.55,340.07 L663.85,340.08 L665.15,340.09 L666.46,340.10 L667.76,340.11 L669.07,340.12 L670.37,340.13 L671.67,340.14 L672.98,340.15 L674.28,340.16 L675.59,340.17 L676.89,340.17 L678.20,340.18 L679.50,340.19" stroke="#00ff00" stroke-width="3.2" fill="none"/>
<path d="M551.50,373.50V282.50" stroke="#3c3c3c" stroke-width="1" stroke-dasharray="10 3 3 3" fill="none"/>
<path d="M416.39,282.00V373.50H680.00" stroke="#262626" stroke-width="1.2" fill="none"/>
<path d="M416.39,373.50h2.8M416.39,328.00h2.8M416.39,282.50h2.8M423.50,373.50v-2.8M551.50,373.50v-2.8M679.50,373.50v-2.8" stroke="#262626" stroke-width="1.2" fill="none"/>
<text x="410.19" y="379.90" text-anchor="end" class="tk">0</text>
<text x="410.19" y="334.40" text-anchor="end" class="tk">50</text>
<path transform="translate(382.67,288.90) scale(0.01650,-0.01650)" d="M245,0H345V709H272C256,640 220,592 95,584V516H245Z" fill="#000"/>
<text x="410.19" y="288.90" text-anchor="end" class="tk">00</text>
<text x="422.70" y="395.90" text-anchor="middle" class="tk">0</text>
<text x="550.70" y="395.90" text-anchor="middle" class="tk">3</text>
<text x="678.70" y="395.90" text-anchor="middle" class="tk">6</text>
<path d="M82.39,494.50H345.50M82.39,485.50H345.50M82.39,476.50H345.50M82.39,467.50H345.50M82.39,448.50H345.50M82.39,439.50H345.50M82.39,430.50H345.50M82.39,421.50H345.50" stroke="#c2c2c2" stroke-width="1" stroke-dasharray="1.5 3.3" stroke-dashoffset="-1.55" fill="none"/>
<path d="M110.83,503.50V412.50M132.17,503.50V412.50M153.50,503.50V412.50M174.83,503.50V412.50M196.17,503.50V412.50M238.83,503.50V412.50M260.17,503.50V412.50M281.50,503.50V412.50M302.83,503.50V412.50M324.17,503.50V412.50" stroke="#c2c2c2" stroke-width="1" stroke-dasharray="1.5 3.3" fill="none"/>
<path d="M82.39,458.50H345.50M82.39,412.50H345.50M89.50,503.50V412.50M217.50,503.50V412.50M345.50,503.50V412.50" stroke="#dedede" stroke-width="1" fill="none"/>
<path d="M85.96,456.54 L87.26,456.54 L88.57,456.54 L89.87,456.54 L91.18,456.54 L92.48,456.54 L93.78,456.54 L95.09,456.54 L96.39,456.54 L97.70,456.54 L99.00,456.54 L100.31,456.54 L101.61,456.54 L102.91,456.54 L104.22,456.54 L105.52,456.54 L106.83,456.54 L108.13,456.54 L109.43,456.54 L110.74,456.54 L112.04,456.54 L113.35,456.54 L114.65,456.54 L115.96,456.54 L117.26,456.54 L118.56,456.54 L119.87,456.54 L121.17,456.54 L122.48,456.54 L123.78,456.54 L125.09,456.54 L126.39,456.54 L127.69,456.54 L129.00,456.54 L130.30,456.54 L131.61,456.54 L132.91,456.54 L134.22,456.54 L135.52,456.54 L136.82,456.54 L138.13,456.54 L139.43,456.54 L140.74,456.54 L142.04,456.54 L143.34,456.54 L144.65,456.54 L145.95,456.54 L147.26,456.54 L148.56,456.54 L149.87,456.54 L151.17,456.54 L152.47,456.54 L153.78,456.54 L155.08,456.54 L156.39,456.54 L157.69,456.54 L159.00,456.54 L160.30,456.54 L161.60,456.54 L162.91,456.54 L164.21,456.54 L165.52,456.54 L166.82,456.54 L168.13,456.54 L169.43,456.54 L170.73,456.54 L172.04,456.54 L173.34,456.54 L174.65,456.54 L175.95,456.54 L177.25,456.54 L178.56,456.54 L179.86,456.54 L181.17,456.54 L182.47,456.54 L183.78,456.54 L185.08,456.54 L186.38,456.54 L187.69,456.54 L188.99,456.54 L190.30,456.54 L191.60,456.54 L192.91,456.54 L194.21,456.54 L195.51,456.54 L196.82,456.54 L198.12,456.54 L199.43,456.54 L200.73,456.54 L202.03,456.54 L203.34,456.54 L204.64,456.54 L205.95,456.54 L207.25,456.54 L208.56,456.54 L209.86,456.54 L211.16,456.54 L212.47,456.54 L213.77,456.54 L215.08,456.54 L216.38,456.54 L217.69,456.54 L218.99,456.58 L220.29,456.65 L221.60,456.76 L222.90,456.91 L224.21,457.08 L225.51,457.27 L226.82,457.47 L228.12,457.69 L229.42,457.91 L230.73,458.12 L232.03,458.33 L233.34,458.53 L234.64,458.70 L235.94,458.88 L237.25,459.06 L238.55,459.24 L239.86,459.42 L241.16,459.61 L242.47,459.80 L243.77,459.98 L245.07,460.17 L246.38,460.36 L247.68,460.55 L248.99,460.73 L250.29,460.91 L251.60,461.10 L252.90,461.27 L254.20,461.45 L255.51,461.63 L256.81,461.80 L258.12,461.98 L259.42,462.15 L260.73,462.32 L262.03,462.50 L263.33,462.67 L264.64,462.84 L265.94,463.00 L267.25,463.17 L268.55,463.34 L269.85,463.50 L271.16,463.67 L272.46,463.83 L273.77,463.99 L275.07,464.16 L276.38,464.32 L277.68,464.48 L278.98,464.64 L280.29,464.80 L281.59,464.96 L282.90,465.12 L284.20,465.27 L285.51,465.42 L286.81,465.57 L288.11,465.71 L289.42,465.85 L290.72,465.99 L292.03,466.12 L293.33,466.26 L294.64,466.39 L295.94,466.52 L297.24,466.64 L298.55,466.77 L299.85,466.89 L301.16,467.01 L302.46,467.13 L303.76,467.24 L305.07,467.35 L306.37,467.46 L307.68,467.56 L308.98,467.66 L310.29,467.75 L311.59,467.84 L312.89,467.93 L314.20,468.01 L315.50,468.09 L316.81,468.17 L318.11,468.25 L319.42,468.32 L320.72,468.39 L322.02,468.46 L323.33,468.54 L324.63,468.60 L325.94,468.67 L327.24,468.74 L328.55,468.81 L329.85,468.88 L331.15,468.95 L332.46,469.02 L333.76,469.08 L335.07,469.15 L336.37,469.22 L337.67,469.28 L338.98,469.34 L340.28,469.41 L341.59,469.47 L342.89,469.53 L344.20,469.59 L345.50,469.65" stroke="#00ff00" stroke-width="3.2" fill="none"/>
<path d="M85.96,499.68 L87.26,499.68 L88.57,499.68 L89.87,499.68 L91.18,499.68 L92.48,499.68 L93.78,499.68 L95.09,499.68 L96.39,499.68 L97.70,499.68 L99.00,499.68 L100.31,499.68 L101.61,499.68 L102.91,499.68 L104.22,499.68 L105.52,499.68 L106.83,499.68 L108.13,499.68 L109.43,499.68 L110.74,499.68 L112.04,499.68 L113.35,499.68 L114.65,499.68 L115.96,499.68 L117.26,499.68 L118.56,499.68 L119.87,499.68 L121.17,499.68 L122.48,499.68 L123.78,499.68 L125.09,499.68 L126.39,499.68 L127.69,499.68 L129.00,499.68 L130.30,499.68 L131.61,499.68 L132.91,499.68 L134.22,499.68 L135.52,499.68 L136.82,499.68 L138.13,499.68 L139.43,499.68 L140.74,499.68 L142.04,499.68 L143.34,499.68 L144.65,499.68 L145.95,499.68 L147.26,499.68 L148.56,499.68 L149.87,499.68 L151.17,499.68 L152.47,499.68 L153.78,499.68 L155.08,499.68 L156.39,499.68 L157.69,499.68 L159.00,499.68 L160.30,499.68 L161.60,499.68 L162.91,499.68 L164.21,499.68 L165.52,499.68 L166.82,499.68 L168.13,499.68 L169.43,499.68 L170.73,499.68 L172.04,499.68 L173.34,499.68 L174.65,499.68 L175.95,499.68 L177.25,499.68 L178.56,499.68 L179.86,499.68 L181.17,499.68 L182.47,499.68 L183.78,499.68 L185.08,499.68 L186.38,499.68 L187.69,499.68 L188.99,499.68 L190.30,499.68 L191.60,499.68 L192.91,499.68 L194.21,499.68 L195.51,499.68 L196.82,499.68 L198.12,499.68 L199.43,499.68 L200.73,499.68 L202.03,499.68 L203.34,499.68 L204.64,499.68 L205.95,499.68 L207.25,499.68 L208.56,499.68 L209.86,499.68 L211.16,499.68 L212.47,499.68 L213.77,499.68 L215.08,499.68 L216.38,499.68 L217.69,499.67 L218.99,499.46 L220.29,498.99 L221.60,498.37 L222.90,497.72 L224.21,497.14 L225.51,496.75 L226.82,496.60 L228.12,496.47 L229.42,496.36 L230.73,496.26 L232.03,496.17 L233.34,496.10 L234.64,496.04 L235.94,495.99 L237.25,495.96 L238.55,495.95 L239.86,495.95 L241.16,495.96 L242.47,495.98 L243.77,496.00 L245.07,496.03 L246.38,496.07 L247.68,496.11 L248.99,496.15 L250.29,496.19 L251.60,496.24 L252.90,496.28 L254.20,496.33 L255.51,496.37 L256.81,496.41 L258.12,496.44 L259.42,496.48 L260.73,496.50 L262.03,496.53 L263.33,496.56 L264.64,496.58 L265.94,496.60 L267.25,496.63 L268.55,496.65 L269.85,496.67 L271.16,496.70 L272.46,496.72 L273.77,496.74 L275.07,496.76 L276.38,496.78 L277.68,496.80 L278.98,496.82 L280.29,496.84 L281.59,496.86 L282.90,496.88 L284.20,496.90 L285.51,496.91 L286.81,496.93 L288.11,496.95 L289.42,496.97 L290.72,496.99 L292.03,497.00 L293.33,497.02 L294.64,497.04 L295.94,497.05 L297.24,497.07 L298.55,497.08 L299.85,497.10 L301.16,497.11 L302.46,497.13 L303.76,497.14 L305.07,497.15 L306.37,497.17 L307.68,497.18 L308.98,497.19 L310.29,497.21 L311.59,497.22 L312.89,497.23 L314.20,497.25 L315.50,497.26 L316.81,497.27 L318.11,497.28 L319.42,497.29 L320.72,497.31 L322.02,497.32 L323.33,497.33 L324.63,497.34 L325.94,497.35 L327.24,497.36 L328.55,497.37 L329.85,497.39 L331.15,497.40 L332.46,497.41 L333.76,497.42 L335.07,497.43 L336.37,497.44 L337.67,497.44 L338.98,497.45 L340.28,497.46 L341.59,497.47 L342.89,497.48 L344.20,497.49 L345.50,497.49" stroke="#ff0000" stroke-width="2.6" fill="none" stroke-dasharray="9.5 9.5"/>
<path d="M85.96,459.27 L87.26,459.27 L88.57,459.27 L89.87,459.27 L91.18,459.27 L92.48,459.27 L93.78,459.27 L95.09,459.27 L96.39,459.27 L97.70,459.27 L99.00,459.27 L100.31,459.27 L101.61,459.27 L102.91,459.27 L104.22,459.27 L105.52,459.27 L106.83,459.27 L108.13,459.27 L109.43,459.27 L110.74,459.27 L112.04,459.27 L113.35,459.27 L114.65,459.27 L115.96,459.27 L117.26,459.27 L118.56,459.27 L119.87,459.27 L121.17,459.27 L122.48,459.27 L123.78,459.27 L125.09,459.27 L126.39,459.27 L127.69,459.27 L129.00,459.27 L130.30,459.27 L131.61,459.27 L132.91,459.27 L134.22,459.27 L135.52,459.27 L136.82,459.27 L138.13,459.27 L139.43,459.27 L140.74,459.27 L142.04,459.27 L143.34,459.27 L144.65,459.27 L145.95,459.27 L147.26,459.27 L148.56,459.27 L149.87,459.27 L151.17,459.27 L152.47,459.27 L153.78,459.27 L155.08,459.27 L156.39,459.27 L157.69,459.27 L159.00,459.27 L160.30,459.27 L161.60,459.27 L162.91,459.27 L164.21,459.27 L165.52,459.27 L166.82,459.27 L168.13,459.27 L169.43,459.27 L170.73,459.27 L172.04,459.27 L173.34,459.27 L174.65,459.27 L175.95,459.27 L177.25,459.27 L178.56,459.27 L179.86,459.27 L181.17,459.27 L182.47,459.27 L183.78,459.27 L185.08,459.27 L186.38,459.27 L187.69,459.27 L188.99,459.27 L190.30,459.27 L191.60,459.27 L192.91,459.27 L194.21,459.27 L195.51,459.27 L196.82,459.27 L198.12,459.27 L199.43,459.27 L200.73,459.27 L202.03,459.27 L203.34,459.27 L204.64,459.27 L205.95,459.27 L207.25,459.27 L208.56,459.27 L209.86,459.27 L211.16,459.27 L212.47,459.27 L213.77,459.27 L215.08,459.27 L216.38,459.27 L217.69,459.27 L218.99,459.24 L220.29,459.14 L221.60,459.01 L222.90,458.83 L224.21,458.62 L225.51,458.38 L226.82,458.13 L228.12,457.87 L229.42,457.60 L230.73,457.34 L232.03,457.09 L233.34,456.86 L234.64,456.65 L235.94,456.44 L237.25,456.23 L238.55,456.02 L239.86,455.81 L241.16,455.60 L242.47,455.39 L243.77,455.18 L245.07,454.96 L246.38,454.75 L247.68,454.54 L248.99,454.33 L250.29,454.13 L251.60,453.93 L252.90,453.73 L254.20,453.53 L255.51,453.33 L256.81,453.13 L258.12,452.93 L259.42,452.73 L260.73,452.53 L262.03,452.33 L263.33,452.14 L264.64,451.95 L265.94,451.76 L267.25,451.58 L268.55,451.40 L269.85,451.23 L271.16,451.06 L272.46,450.90 L273.77,450.73 L275.07,450.57 L276.38,450.42 L277.68,450.26 L278.98,450.11 L280.29,449.96 L281.59,449.81 L282.90,449.67 L284.20,449.53 L285.51,449.40 L286.81,449.27 L288.11,449.14 L289.42,449.03 L290.72,448.91 L292.03,448.81 L293.33,448.71 L294.64,448.61 L295.94,448.51 L297.24,448.42 L298.55,448.33 L299.85,448.25 L301.16,448.16 L302.46,448.08 L303.76,448.00 L305.07,447.92 L306.37,447.85 L307.68,447.77 L308.98,447.69 L310.29,447.61 L311.59,447.54 L312.89,447.46 L314.20,447.38 L315.50,447.31 L316.81,447.23 L318.11,447.16 L319.42,447.08 L320.72,447.01 L322.02,446.94 L323.33,446.88 L324.63,446.81 L325.94,446.75 L327.24,446.69 L328.55,446.64 L329.85,446.59 L331.15,446.53 L332.46,446.48 L333.76,446.44 L335.07,446.39 L336.37,446.34 L337.67,446.30 L338.98,446.26 L340.28,446.22 L341.59,446.18 L342.89,446.14 L344.20,446.11 L345.50,446.08" stroke="#ff00ff" stroke-width="2.6" fill="none" stroke-dasharray="2.5 2.4"/>
<path d="M217.50,503.50V412.50" stroke="#3c3c3c" stroke-width="1" stroke-dasharray="10 3 3 3" fill="none"/>
<path d="M82.39,412.00V503.50H346.00" stroke="#262626" stroke-width="1.2" fill="none"/>
<path d="M82.39,503.50h2.8M82.39,458.00h2.8M82.39,412.50h2.8M89.50,503.50v-2.8M217.50,503.50v-2.8M345.50,503.50v-2.8" stroke="#262626" stroke-width="1.2" fill="none"/>
<text x="76.19" y="509.90" text-anchor="end" class="tk">0</text>
<text x="76.19" y="464.40" text-anchor="end" class="tk">0.5</text>
<path transform="translate(67.01,418.90) scale(0.01650,-0.01650)" d="M245,0H345V709H272C256,640 220,592 95,584V516H245Z" fill="#000"/>
<text x="88.70" y="525.90" text-anchor="middle" class="tk">0</text>
<text x="216.70" y="525.90" text-anchor="middle" class="tk">3</text>
<text x="344.70" y="525.90" text-anchor="middle" class="tk">6</text>
<path d="M416.39,494.50H679.50M416.39,485.50H679.50M416.39,476.50H679.50M416.39,467.50H679.50M416.39,448.50H679.50M416.39,439.50H679.50M416.39,430.50H679.50M416.39,421.50H679.50" stroke="#c2c2c2" stroke-width="1" stroke-dasharray="1.5 3.3" stroke-dashoffset="-1.55" fill="none"/>
<path d="M444.83,503.50V412.50M466.17,503.50V412.50M487.50,503.50V412.50M508.83,503.50V412.50M530.17,503.50V412.50M572.83,503.50V412.50M594.17,503.50V412.50M615.50,503.50V412.50M636.83,503.50V412.50M658.17,503.50V412.50" stroke="#c2c2c2" stroke-width="1" stroke-dasharray="1.5 3.3" fill="none"/>
<path d="M416.39,458.50H679.50M416.39,412.50H679.50M423.50,503.50V412.50M551.50,503.50V412.50M679.50,503.50V412.50" stroke="#dedede" stroke-width="1" fill="none"/>
<path d="M419.96,459.00 L421.26,459.00 L422.57,459.00 L423.87,459.00 L425.18,459.00 L426.48,459.00 L427.78,459.00 L429.09,459.00 L430.39,459.00 L431.70,459.00 L433.00,459.00 L434.31,459.00 L435.61,459.00 L436.91,459.00 L438.22,459.00 L439.52,459.00 L440.83,459.00 L442.13,459.00 L443.43,459.00 L444.74,459.00 L446.04,459.00 L447.35,459.00 L448.65,459.00 L449.96,459.00 L451.26,459.00 L452.56,459.00 L453.87,459.00 L455.17,459.00 L456.48,459.00 L457.78,459.00 L459.09,459.00 L460.39,459.00 L461.69,459.00 L463.00,459.00 L464.30,459.00 L465.61,459.00 L466.91,459.00 L468.22,459.00 L469.52,459.00 L470.82,459.00 L472.13,459.00 L473.43,459.00 L474.74,459.00 L476.04,459.00 L477.34,459.00 L478.65,459.00 L479.95,459.00 L481.26,459.00 L482.56,459.00 L483.87,459.00 L485.17,459.00 L486.47,459.00 L487.78,459.00 L489.08,459.00 L490.39,459.00 L491.69,459.00 L493.00,459.00 L494.30,459.00 L495.60,459.00 L496.91,459.00 L498.21,459.00 L499.52,459.00 L500.82,459.00 L502.13,459.00 L503.43,459.00 L504.73,459.00 L506.04,459.00 L507.34,459.00 L508.65,459.00 L509.95,459.00 L511.25,459.00 L512.56,459.00 L513.86,459.00 L515.17,459.00 L516.47,459.00 L517.78,459.00 L519.08,459.00 L520.38,459.00 L521.69,459.00 L522.99,459.00 L524.30,459.00 L525.60,459.00 L526.91,459.00 L528.21,459.00 L529.51,459.00 L530.82,459.00 L532.12,459.00 L533.43,459.00 L534.73,459.00 L536.03,459.00 L537.34,459.00 L538.64,459.00 L539.95,459.00 L541.25,459.00 L542.56,459.00 L543.86,459.00 L545.16,459.00 L546.47,459.00 L547.77,459.00 L549.08,459.00 L550.38,459.00 L551.69,459.00 L552.99,459.02 L554.29,459.05 L555.60,459.11 L556.90,459.18 L558.21,459.27 L559.51,459.36 L560.82,459.47 L562.12,459.58 L563.42,459.69 L564.73,459.81 L566.03,459.92 L567.34,460.03 L568.64,460.13 L569.94,460.24 L571.25,460.35 L572.55,460.47 L573.86,460.59 L575.16,460.72 L576.47,460.85 L577.77,460.98 L579.07,461.11 L580.38,461.24 L581.68,461.36 L582.99,461.48 L584.29,461.60 L585.60,461.72 L586.90,461.82 L588.20,461.92 L589.51,462.02 L590.81,462.11 L592.12,462.21 L593.42,462.30 L594.73,462.39 L596.03,462.47 L597.33,462.56 L598.64,462.64 L599.94,462.73 L601.25,462.81 L602.55,462.89 L603.85,462.98 L605.16,463.06 L606.46,463.15 L607.77,463.23 L609.07,463.32 L610.38,463.40 L611.68,463.48 L612.98,463.57 L614.29,463.65 L615.59,463.73 L616.90,463.81 L618.20,463.89 L619.51,463.97 L620.81,464.05 L622.11,464.13 L623.42,464.20 L624.72,464.27 L626.03,464.34 L627.33,464.41 L628.64,464.47 L629.94,464.54 L631.24,464.60 L632.55,464.66 L633.85,464.72 L635.16,464.78 L636.46,464.84 L637.76,464.90 L639.07,464.96 L640.37,465.02 L641.68,465.08 L642.98,465.14 L644.29,465.20 L645.59,465.26 L646.89,465.32 L648.20,465.38 L649.50,465.45 L650.81,465.51 L652.11,465.57 L653.42,465.63 L654.72,465.69 L656.02,465.75 L657.33,465.81 L658.63,465.86 L659.94,465.91 L661.24,465.96 L662.55,466.00 L663.85,466.04 L665.15,466.07 L666.46,466.11 L667.76,466.14 L669.07,466.18 L670.37,466.21 L671.67,466.24 L672.98,466.26 L674.28,466.29 L675.59,466.31 L676.89,466.34 L678.20,466.36 L679.50,466.37" stroke="#00ff00" stroke-width="3.2" fill="none"/>
<path d="M419.96,496.77 L421.26,496.77 L422.57,496.77 L423.87,496.77 L425.18,496.77 L426.48,496.77 L427.78,496.77 L429.09,496.77 L430.39,496.77 L431.70,496.77 L433.00,496.77 L434.31,496.77 L435.61,496.77 L436.91,496.77 L438.22,496.77 L439.52,496.77 L440.83,496.77 L442.13,496.77 L443.43,496.77 L444.74,496.77 L446.04,496.77 L447.35,496.77 L448.65,496.77 L449.96,496.77 L451.26,496.77 L452.56,496.77 L453.87,496.77 L455.17,496.77 L456.48,496.77 L457.78,496.77 L459.09,496.77 L460.39,496.77 L461.69,496.77 L463.00,496.77 L464.30,496.77 L465.61,496.77 L466.91,496.77 L468.22,496.77 L469.52,496.77 L470.82,496.77 L472.13,496.77 L473.43,496.77 L474.74,496.77 L476.04,496.77 L477.34,496.77 L478.65,496.77 L479.95,496.77 L481.26,496.77 L482.56,496.77 L483.87,496.77 L485.17,496.77 L486.47,496.77 L487.78,496.77 L489.08,496.77 L490.39,496.77 L491.69,496.77 L493.00,496.77 L494.30,496.77 L495.60,496.77 L496.91,496.77 L498.21,496.77 L499.52,496.77 L500.82,496.77 L502.13,496.77 L503.43,496.77 L504.73,496.77 L506.04,496.77 L507.34,496.77 L508.65,496.77 L509.95,496.77 L511.25,496.77 L512.56,496.77 L513.86,496.77 L515.17,496.77 L516.47,496.77 L517.78,496.77 L519.08,496.77 L520.38,496.77 L521.69,496.77 L522.99,496.77 L524.30,496.77 L525.60,496.77 L526.91,496.77 L528.21,496.77 L529.51,496.77 L530.82,496.77 L532.12,496.77 L533.43,496.77 L534.73,496.77 L536.03,496.77 L537.34,496.77 L538.64,496.77 L539.95,496.77 L541.25,496.77 L542.56,496.77 L543.86,496.77 L545.16,496.77 L546.47,496.77 L547.77,496.77 L549.08,496.77 L550.38,496.77 L551.69,496.76 L552.99,496.59 L554.29,496.21 L555.60,495.69 L556.90,495.10 L558.21,494.51 L559.51,494.00 L560.82,493.63 L562.12,493.49 L563.42,493.49 L564.73,493.49 L566.03,493.49 L567.34,493.49 L568.64,493.50 L569.94,493.50 L571.25,493.50 L572.55,493.50 L573.86,493.51 L575.16,493.51 L576.47,493.52 L577.77,493.52 L579.07,493.53 L580.38,493.53 L581.68,493.53 L582.99,493.54 L584.29,493.54 L585.60,493.55 L586.90,493.55 L588.20,493.56 L589.51,493.56 L590.81,493.57 L592.12,493.57 L593.42,493.58 L594.73,493.58 L596.03,493.59 L597.33,493.59 L598.64,493.60 L599.94,493.60 L601.25,493.61 L602.55,493.61 L603.85,493.62 L605.16,493.62 L606.46,493.63 L607.77,493.63 L609.07,493.64 L610.38,493.64 L611.68,493.65 L612.98,493.66 L614.29,493.66 L615.59,493.67 L616.90,493.67 L618.20,493.68 L619.51,493.69 L620.81,493.69 L622.11,493.70 L623.42,493.70 L624.72,493.71 L626.03,493.72 L627.33,493.72 L628.64,493.73 L629.94,493.73 L631.24,493.74 L632.55,493.74 L633.85,493.75 L635.16,493.76 L636.46,493.76 L637.76,493.77 L639.07,493.77 L640.37,493.78 L641.68,493.78 L642.98,493.79 L644.29,493.79 L645.59,493.80 L646.89,493.81 L648.20,493.81 L649.50,493.82 L650.81,493.82 L652.11,493.83 L653.42,493.83 L654.72,493.84 L656.02,493.84 L657.33,493.85 L658.63,493.86 L659.94,493.86 L661.24,493.87 L662.55,493.87 L663.85,493.88 L665.15,493.88 L666.46,493.89 L667.76,493.89 L669.07,493.90 L670.37,493.91 L671.67,493.91 L672.98,493.92 L674.28,493.92 L675.59,493.93 L676.89,493.93 L678.20,493.94 L679.50,493.94" stroke="#ff0000" stroke-width="2.6" fill="none" stroke-dasharray="9.5 9.5"/>
<path d="M419.96,456.09 L421.26,456.09 L422.57,456.09 L423.87,456.09 L425.18,456.09 L426.48,456.09 L427.78,456.09 L429.09,456.09 L430.39,456.09 L431.70,456.09 L433.00,456.09 L434.31,456.09 L435.61,456.09 L436.91,456.09 L438.22,456.09 L439.52,456.09 L440.83,456.09 L442.13,456.09 L443.43,456.09 L444.74,456.09 L446.04,456.09 L447.35,456.09 L448.65,456.09 L449.96,456.09 L451.26,456.09 L452.56,456.09 L453.87,456.09 L455.17,456.09 L456.48,456.09 L457.78,456.09 L459.09,456.09 L460.39,456.09 L461.69,456.09 L463.00,456.09 L464.30,456.09 L465.61,456.09 L466.91,456.09 L468.22,456.09 L469.52,456.09 L470.82,456.09 L472.13,456.09 L473.43,456.09 L474.74,456.09 L476.04,456.09 L477.34,456.09 L478.65,456.09 L479.95,456.09 L481.26,456.09 L482.56,456.09 L483.87,456.09 L485.17,456.09 L486.47,456.09 L487.78,456.09 L489.08,456.09 L490.39,456.09 L491.69,456.09 L493.00,456.09 L494.30,456.09 L495.60,456.09 L496.91,456.09 L498.21,456.09 L499.52,456.09 L500.82,456.09 L502.13,456.09 L503.43,456.09 L504.73,456.09 L506.04,456.09 L507.34,456.09 L508.65,456.09 L509.95,456.09 L511.25,456.09 L512.56,456.09 L513.86,456.09 L515.17,456.09 L516.47,456.09 L517.78,456.09 L519.08,456.09 L520.38,456.09 L521.69,456.09 L522.99,456.09 L524.30,456.09 L525.60,456.09 L526.91,456.09 L528.21,456.09 L529.51,456.09 L530.82,456.09 L532.12,456.09 L533.43,456.09 L534.73,456.09 L536.03,456.09 L537.34,456.09 L538.64,456.09 L539.95,456.09 L541.25,456.09 L542.56,456.09 L543.86,456.09 L545.16,456.09 L546.47,456.09 L547.77,456.09 L549.08,456.09 L550.38,456.09 L551.69,456.09 L552.99,456.08 L554.29,456.05 L555.60,456.00 L556.90,455.94 L558.21,455.87 L559.51,455.79 L560.82,455.70 L562.12,455.61 L563.42,455.51 L564.73,455.42 L566.03,455.32 L567.34,455.23 L568.64,455.15 L569.94,455.06 L571.25,454.97 L572.55,454.88 L573.86,454.78 L575.16,454.68 L576.47,454.58 L577.77,454.48 L579.07,454.37 L580.38,454.27 L581.68,454.16 L582.99,454.05 L584.29,453.94 L585.60,453.83 L586.90,453.72 L588.20,453.61 L589.51,453.49 L590.81,453.37 L592.12,453.25 L593.42,453.12 L594.73,452.99 L596.03,452.86 L597.33,452.73 L598.64,452.61 L599.94,452.48 L601.25,452.36 L602.55,452.25 L603.85,452.14 L605.16,452.03 L606.46,451.94 L607.77,451.84 L609.07,451.75 L610.38,451.67 L611.68,451.58 L612.98,451.50 L614.29,451.41 L615.59,451.34 L616.90,451.26 L618.20,451.18 L619.51,451.11 L620.81,451.03 L622.11,450.96 L623.42,450.89 L624.72,450.82 L626.03,450.75 L627.33,450.68 L628.64,450.62 L629.94,450.55 L631.24,450.49 L632.55,450.43 L633.85,450.37 L635.16,450.31 L636.46,450.25 L637.76,450.19 L639.07,450.13 L640.37,450.07 L641.68,450.01 L642.98,449.95 L644.29,449.89 L645.59,449.83 L646.89,449.77 L648.20,449.71 L649.50,449.64 L650.81,449.58 L652.11,449.52 L653.42,449.46 L654.72,449.40 L656.02,449.34 L657.33,449.28 L658.63,449.23 L659.94,449.18 L661.24,449.13 L662.55,449.09 L663.85,449.05 L665.15,449.02 L666.46,448.98 L667.76,448.95 L669.07,448.91 L670.37,448.88 L671.67,448.85 L672.98,448.83 L674.28,448.80 L675.59,448.78 L676.89,448.75 L678.20,448.73 L679.50,448.72" stroke="#ff00ff" stroke-width="2.6" fill="none" stroke-dasharray="2.5 2.4"/>
<path d="M551.50,503.50V412.50" stroke="#3c3c3c" stroke-width="1" stroke-dasharray="10 3 3 3" fill="none"/>
<path d="M416.39,412.00V503.50H680.00" stroke="#262626" stroke-width="1.2" fill="none"/>
<path d="M416.39,503.50h2.8M416.39,458.00h2.8M416.39,412.50h2.8M423.50,503.50v-2.8M551.50,503.50v-2.8M679.50,503.50v-2.8" stroke="#262626" stroke-width="1.2" fill="none"/>
<text x="410.19" y="509.90" text-anchor="end" class="tk">0</text>
<text x="410.19" y="464.40" text-anchor="end" class="tk">0.5</text>
<path transform="translate(401.01,418.90) scale(0.01650,-0.01650)" d="M245,0H345V709H272C256,640 220,592 95,584V516H245Z" fill="#000"/>
<text x="422.70" y="525.90" text-anchor="middle" class="tk">0</text>
<text x="550.70" y="525.90" text-anchor="middle" class="tk">3</text>
<text x="678.70" y="525.90" text-anchor="middle" class="tk">6</text>
<path d="M82.39,618.50H345.50M82.39,603.50H345.50M82.39,588.50H345.50M82.39,572.50H345.50M82.39,542.50H345.50" stroke="#c2c2c2" stroke-width="1" stroke-dasharray="1.5 3.3" stroke-dashoffset="-1.55" fill="none"/>
<path d="M110.83,633.50V542.50M132.17,633.50V542.50M153.50,633.50V542.50M174.83,633.50V542.50M196.17,633.50V542.50M238.83,633.50V542.50M260.17,633.50V542.50M281.50,633.50V542.50M302.83,633.50V542.50M324.17,633.50V542.50" stroke="#c2c2c2" stroke-width="1" stroke-dasharray="1.5 3.3" fill="none"/>
<path d="M82.39,557.50H345.50M89.50,633.50V542.50M217.50,633.50V542.50M345.50,633.50V542.50" stroke="#dedede" stroke-width="1" fill="none"/>
<use href="#m" x="190.13" y="590.58"/><use href="#m" x="190.13" y="594.22"/><use href="#m" x="190.13" y="599.38"/><use href="#m" x="190.13" y="603.77"/><use href="#m" x="190.13" y="607.41"/><use href="#m" x="200.80" y="591.34"/><use href="#m" x="200.80" y="594.22"/><use href="#m" x="200.80" y="602.26"/><use href="#m" x="200.80" y="605.14"/><use href="#m" x="200.80" y="608.78"/><use href="#m" x="211.47" y="586.94"/><use href="#m" x="211.47" y="594.98"/><use href="#m" x="211.47" y="600.74"/><use href="#m" x="211.47" y="602.86"/><use href="#m" x="211.47" y="608.78"/><use href="#m" x="222.13" y="581.78"/><use href="#m" x="222.13" y="593.16"/><use href="#m" x="222.13" y="604.08"/><use href="#m" x="222.13" y="607.41"/><use href="#m" x="222.13" y="619.39"/><use href="#m" x="232.80" y="622.88"/><use href="#m" x="243.47" y="544.77"/><use href="#m" x="243.47" y="559.79"/><use href="#m" x="254.13" y="551.14"/><use href="#m" x="254.13" y="583.45"/><use href="#m" x="264.80" y="544.77"/><use href="#m" x="264.80" y="548.57"/><use href="#m" x="264.80" y="557.82"/><use href="#m" x="264.80" y="576.62"/><use href="#m" x="264.80" y="588.76"/><use href="#m" x="275.47" y="550.99"/><use href="#m" x="275.47" y="560.25"/><use href="#m" x="275.47" y="566.16"/><use href="#m" x="275.47" y="586.79"/><use href="#m" x="286.13" y="544.77"/><use href="#m" x="286.13" y="562.22"/><use href="#m" x="286.13" y="569.19"/><use href="#m" x="286.13" y="574.96"/><use href="#m" x="286.13" y="595.58"/><use href="#m" x="286.13" y="603.47"/><use href="#m" x="296.80" y="557.36"/><use href="#m" x="296.80" y="559.18"/><use href="#m" x="296.80" y="572.08"/><use href="#m" x="296.80" y="585.27"/><use href="#m" x="296.80" y="596.95"/><use href="#m" x="307.47" y="551.60"/><use href="#m" x="307.47" y="561.31"/><use href="#m" x="307.47" y="581.78"/><use href="#m" x="307.47" y="588.76"/><use href="#m" x="307.47" y="598.47"/><use href="#m" x="318.13" y="572.08"/><use href="#m" x="318.13" y="581.78"/><use href="#m" x="318.13" y="586.79"/><use href="#m" x="318.13" y="591.64"/><use href="#m" x="318.13" y="595.58"/><use href="#m" x="318.13" y="629.40"/><use href="#m" x="328.80" y="559.03"/><use href="#m" x="328.80" y="565.71"/><use href="#m" x="328.80" y="576.02"/><use href="#m" x="328.80" y="595.13"/><use href="#m" x="339.47" y="569.19"/><use href="#m" x="339.47" y="573.44"/><use href="#m" x="339.47" y="589.06"/><use href="#m" x="339.47" y="598.92"/>
<path d="M85.96,597.86 L87.26,597.86 L88.57,597.86 L89.87,597.86 L91.18,597.86 L92.48,597.86 L93.78,597.86 L95.09,597.86 L96.39,597.86 L97.70,597.86 L99.00,597.86 L100.31,597.86 L101.61,597.86 L102.91,597.86 L104.22,597.86 L105.52,597.86 L106.83,597.86 L108.13,597.86 L109.43,597.86 L110.74,597.86 L112.04,597.86 L113.35,597.86 L114.65,597.86 L115.96,597.86 L117.26,597.86 L118.56,597.86 L119.87,597.86 L121.17,597.86 L122.48,597.86 L123.78,597.86 L125.09,597.86 L126.39,597.86 L127.69,597.86 L129.00,597.86 L130.30,597.86 L131.61,597.86 L132.91,597.86 L134.22,597.86 L135.52,597.86 L136.82,597.86 L138.13,597.86 L139.43,597.86 L140.74,597.86 L142.04,597.86 L143.34,597.86 L144.65,597.86 L145.95,597.86 L147.26,597.86 L148.56,597.86 L149.87,597.86 L151.17,597.86 L152.47,597.86 L153.78,597.86 L155.08,597.86 L156.39,597.86 L157.69,597.86 L159.00,597.86 L160.30,597.86 L161.60,597.86 L162.91,597.86 L164.21,597.86 L165.52,597.86 L166.82,597.86 L168.13,597.86 L169.43,597.86 L170.73,597.86 L172.04,597.86 L173.34,597.86 L174.65,597.86 L175.95,597.86 L177.25,597.86 L178.56,597.86 L179.86,597.86 L181.17,597.86 L182.47,597.86 L183.78,597.86 L185.08,597.86 L186.38,597.86 L187.69,597.86 L188.99,597.86 L190.30,597.86 L191.60,597.86 L192.91,597.86 L194.21,597.86 L195.51,597.86 L196.82,597.86 L198.12,597.86 L199.43,597.86 L200.73,597.86 L202.03,597.86 L203.34,597.86 L204.64,597.86 L205.95,597.86 L207.25,597.86 L208.56,597.86 L209.86,597.86 L211.16,597.86 L212.47,597.86 L213.77,597.86 L215.08,597.86 L216.38,597.86 L217.69,597.75 L218.99,593.49 L220.29,588.35 L221.60,583.91 L222.90,580.56 L224.21,578.13 L225.51,576.20 L226.82,574.68 L228.12,573.34 L229.42,572.27 L230.73,571.58 L232.03,571.04 L233.34,570.59 L234.64,570.27 L235.94,570.10 L237.25,570.00 L238.55,569.92 L239.86,569.86 L241.16,569.82 L242.47,569.80 L243.77,569.81 L245.07,569.84 L246.38,569.90 L247.68,569.96 L248.99,570.04 L250.29,570.13 L251.60,570.22 L252.90,570.32 L254.20,570.46 L255.51,570.62 L256.81,570.80 L258.12,570.98 L259.42,571.14 L260.73,571.29 L262.03,571.41 L263.33,571.52 L264.64,571.62 L265.94,571.71 L267.25,571.80 L268.55,571.89 L269.85,571.97 L271.16,572.06 L272.46,572.14 L273.77,572.23 L275.07,572.32 L276.38,572.42 L277.68,572.53 L278.98,572.65 L280.29,572.77 L281.59,572.90 L282.90,573.03 L284.20,573.16 L285.51,573.30 L286.81,573.44 L288.11,573.59 L289.42,573.73 L290.72,573.87 L292.03,574.02 L293.33,574.16 L294.64,574.30 L295.94,574.43 L297.24,574.57 L298.55,574.71 L299.85,574.85 L301.16,574.99 L302.46,575.14 L303.76,575.28 L305.07,575.42 L306.37,575.56 L307.68,575.69 L308.98,575.82 L310.29,575.95 L311.59,576.07 L312.89,576.19 L314.20,576.31 L315.50,576.42 L316.81,576.53 L318.11,576.63 L319.42,576.73 L320.72,576.84 L322.02,576.94 L323.33,577.03 L324.63,577.13 L325.94,577.23 L327.24,577.32 L328.55,577.42 L329.85,577.51 L331.15,577.61 L332.46,577.70 L333.76,577.80 L335.07,577.89 L336.37,577.98 L337.67,578.07 L338.98,578.16 L340.28,578.25 L341.59,578.34 L342.89,578.43 L344.20,578.51 L345.50,578.60" stroke="#00ff00" stroke-width="3.2" fill="none"/>
<path d="M217.50,633.50V542.50" stroke="#3c3c3c" stroke-width="1" stroke-dasharray="10 3 3 3" fill="none"/>
<path d="M82.39,542.00V633.50H346.00" stroke="#262626" stroke-width="1.2" fill="none"/>
<path d="M82.39,633.50h2.8M82.39,557.67h2.8M89.50,633.50v-2.8M217.50,633.50v-2.8M345.50,633.50v-2.8" stroke="#262626" stroke-width="1.2" fill="none"/>
<text x="76.19" y="639.90" text-anchor="end" class="tk">0</text>
<text x="76.19" y="564.07" text-anchor="end" class="tk">5</text>
<text x="88.70" y="655.90" text-anchor="middle" class="tk">0</text>
<text x="216.70" y="655.90" text-anchor="middle" class="tk">3</text>
<text x="344.70" y="655.90" text-anchor="middle" class="tk">6</text>
<path d="M416.39,618.50H679.50M416.39,603.50H679.50M416.39,588.50H679.50M416.39,572.50H679.50M416.39,542.50H679.50" stroke="#c2c2c2" stroke-width="1" stroke-dasharray="1.5 3.3" stroke-dashoffset="-1.55" fill="none"/>
<path d="M444.83,633.50V542.50M466.17,633.50V542.50M487.50,633.50V542.50M508.83,633.50V542.50M530.17,633.50V542.50M572.83,633.50V542.50M594.17,633.50V542.50M615.50,633.50V542.50M636.83,633.50V542.50M658.17,633.50V542.50" stroke="#c2c2c2" stroke-width="1" stroke-dasharray="1.5 3.3" fill="none"/>
<path d="M416.39,557.50H679.50M423.50,633.50V542.50M551.50,633.50V542.50M679.50,633.50V542.50" stroke="#dedede" stroke-width="1" fill="none"/>
<use href="#m" x="524.13" y="593.46"/><use href="#m" x="524.13" y="597.10"/><use href="#m" x="524.13" y="602.26"/><use href="#m" x="534.80" y="591.94"/><use href="#m" x="534.80" y="595.58"/><use href="#m" x="534.80" y="599.38"/><use href="#m" x="534.80" y="611.81"/><use href="#m" x="545.47" y="583.30"/><use href="#m" x="545.47" y="586.94"/><use href="#m" x="545.47" y="594.22"/><use href="#m" x="545.47" y="605.14"/><use href="#m" x="556.13" y="590.58"/><use href="#m" x="556.13" y="597.86"/><use href="#m" x="556.13" y="604.38"/><use href="#m" x="556.13" y="608.02"/><use href="#m" x="556.13" y="610.90"/><use href="#m" x="566.80" y="551.90"/><use href="#m" x="566.80" y="554.18"/><use href="#m" x="566.80" y="565.10"/><use href="#m" x="566.80" y="574.50"/><use href="#m" x="577.47" y="551.90"/><use href="#m" x="577.47" y="554.18"/><use href="#m" x="577.47" y="567.22"/><use href="#m" x="577.47" y="590.58"/><use href="#m" x="588.13" y="562.07"/><use href="#m" x="588.13" y="566.46"/><use href="#m" x="588.13" y="570.86"/><use href="#m" x="588.13" y="589.82"/><use href="#m" x="598.80" y="547.50"/><use href="#m" x="598.80" y="566.46"/><use href="#m" x="598.80" y="571.62"/><use href="#m" x="598.80" y="574.50"/><use href="#m" x="598.80" y="592.70"/><use href="#m" x="609.47" y="552.66"/><use href="#m" x="609.47" y="556.30"/><use href="#m" x="609.47" y="565.10"/><use href="#m" x="609.47" y="567.22"/><use href="#m" x="609.47" y="573.74"/><use href="#m" x="609.47" y="597.10"/><use href="#m" x="620.13" y="565.10"/><use href="#m" x="620.13" y="571.62"/><use href="#m" x="620.13" y="578.14"/><use href="#m" x="620.13" y="582.54"/><use href="#m" x="620.13" y="599.98"/><use href="#m" x="630.80" y="562.07"/><use href="#m" x="630.80" y="574.50"/><use href="#m" x="630.80" y="578.14"/><use href="#m" x="630.80" y="590.58"/><use href="#m" x="630.80" y="599.98"/><use href="#m" x="641.47" y="574.50"/><use href="#m" x="641.47" y="578.90"/><use href="#m" x="641.47" y="583.30"/><use href="#m" x="641.47" y="594.98"/><use href="#m" x="652.13" y="571.62"/><use href="#m" x="652.13" y="582.54"/><use href="#m" x="652.13" y="586.94"/><use href="#m" x="652.13" y="597.86"/><use href="#m" x="662.80" y="571.62"/><use href="#m" x="662.80" y="576.02"/><use href="#m" x="662.80" y="580.42"/><use href="#m" x="662.80" y="594.98"/><use href="#m" x="662.80" y="601.50"/><use href="#m" x="673.47" y="568.59"/><use href="#m" x="673.47" y="578.14"/><use href="#m" x="673.47" y="588.46"/><use href="#m" x="673.47" y="600.74"/>
<path d="M419.96,596.80 L421.26,596.80 L422.57,596.80 L423.87,596.80 L425.18,596.80 L426.48,596.80 L427.78,596.80 L429.09,596.80 L430.39,596.80 L431.70,596.80 L433.00,596.80 L434.31,596.80 L435.61,596.80 L436.91,596.80 L438.22,596.80 L439.52,596.80 L440.83,596.80 L442.13,596.80 L443.43,596.80 L444.74,596.80 L446.04,596.80 L447.35,596.80 L448.65,596.80 L449.96,596.80 L451.26,596.80 L452.56,596.80 L453.87,596.80 L455.17,596.80 L456.48,596.80 L457.78,596.80 L459.09,596.80 L460.39,596.80 L461.69,596.80 L463.00,596.80 L464.30,596.80 L465.61,596.80 L466.91,596.80 L468.22,596.80 L469.52,596.80 L470.82,596.80 L472.13,596.80 L473.43,596.80 L474.74,596.80 L476.04,596.80 L477.34,596.80 L478.65,596.80 L479.95,596.80 L481.26,596.80 L482.56,596.80 L483.87,596.80 L485.17,596.80 L486.47,596.80 L487.78,596.80 L489.08,596.80 L490.39,596.80 L491.69,596.80 L493.00,596.80 L494.30,596.80 L495.60,596.80 L496.91,596.80 L498.21,596.80 L499.52,596.80 L500.82,596.80 L502.13,596.80 L503.43,596.80 L504.73,596.80 L506.04,596.80 L507.34,596.80 L508.65,596.80 L509.95,596.80 L511.25,596.80 L512.56,596.80 L513.86,596.80 L515.17,596.80 L516.47,596.80 L517.78,596.80 L519.08,596.80 L520.38,596.80 L521.69,596.80 L522.99,596.80 L524.30,596.80 L525.60,596.80 L526.91,596.80 L528.21,596.80 L529.51,596.80 L530.82,596.80 L532.12,596.80 L533.43,596.80 L534.73,596.80 L536.03,596.80 L537.34,596.80 L538.64,596.80 L539.95,596.80 L541.25,596.80 L542.56,596.80 L543.86,596.80 L545.16,596.80 L546.47,596.80 L547.77,596.80 L549.08,596.80 L550.38,596.80 L551.69,596.76 L552.99,594.95 L554.29,592.21 L555.60,588.89 L556.90,586.22 L558.21,584.09 L559.51,582.48 L560.82,581.21 L562.12,580.23 L563.42,579.56 L564.73,579.01 L566.03,578.57 L567.34,578.22 L568.64,577.95 L569.94,577.69 L571.25,577.46 L572.55,577.27 L573.86,577.14 L575.16,577.08 L576.47,577.08 L577.77,577.08 L579.07,577.08 L580.38,577.08 L581.68,577.08 L582.99,577.08 L584.29,577.12 L585.60,577.19 L586.90,577.29 L588.20,577.40 L589.51,577.51 L590.81,577.61 L592.12,577.73 L593.42,577.85 L594.73,577.97 L596.03,578.07 L597.33,578.16 L598.64,578.25 L599.94,578.33 L601.25,578.41 L602.55,578.49 L603.85,578.56 L605.16,578.64 L606.46,578.72 L607.77,578.80 L609.07,578.88 L610.38,578.96 L611.68,579.05 L612.98,579.15 L614.29,579.24 L615.59,579.34 L616.90,579.45 L618.20,579.55 L619.51,579.65 L620.81,579.76 L622.11,579.87 L623.42,579.97 L624.72,580.08 L626.03,580.18 L627.33,580.28 L628.64,580.38 L629.94,580.47 L631.24,580.57 L632.55,580.67 L633.85,580.76 L635.16,580.86 L636.46,580.95 L637.76,581.04 L639.07,581.14 L640.37,581.23 L641.68,581.31 L642.98,581.40 L644.29,581.48 L645.59,581.57 L646.89,581.64 L648.20,581.72 L649.50,581.79 L650.81,581.86 L652.11,581.93 L653.42,582.00 L654.72,582.06 L656.02,582.12 L657.33,582.19 L658.63,582.25 L659.94,582.32 L661.24,582.39 L662.55,582.45 L663.85,582.52 L665.15,582.60 L666.46,582.67 L667.76,582.74 L669.07,582.82 L670.37,582.90 L671.67,582.97 L672.98,583.05 L674.28,583.13 L675.59,583.21 L676.89,583.29 L678.20,583.37 L679.50,583.45" stroke="#00ff00" stroke-width="3.2" fill="none"/>
<path d="M551.50,633.50V542.50" stroke="#3c3c3c" stroke-width="1" stroke-dasharray="10 3 3 3" fill="none"/>
<path d="M416.39,542.00V633.50H680.00" stroke="#262626" stroke-width="1.2" fill="none"/>
<path d="M416.39,633.50h2.8M416.39,557.67h2.8M423.50,633.50v-2.8M551.50,633.50v-2.8M679.50,633.50v-2.8" stroke="#262626" stroke-width="1.2" fill="none"/>
<text x="410.19" y="639.90" text-anchor="end" class="tk">0</text>
<text x="410.19" y="564.07" text-anchor="end" class="tk">5</text>
<text x="422.70" y="655.90" text-anchor="middle" class="tk">0</text>
<text x="550.70" y="655.90" text-anchor="middle" class="tk">3</text>
<text x="678.70" y="655.90" text-anchor="middle" class="tk">6</text>

<text x="211.6" y="15" text-anchor="middle" class="ttl">Before Treatment</text>
<text x="547.6" y="15" text-anchor="middle" class="ttl">After Treatment (400mg)</text>
<text x="178.0" y="676" class="tx2" font-size="21" textLength="7.6" lengthAdjust="spacingAndGlyphs">t</text>
<text x="193.4" y="676" class="tx2" font-size="21" textLength="54.2" lengthAdjust="spacingAndGlyphs">(hour)</text>
<text x="512.2" y="676" class="tx2" font-size="21" textLength="7.6" lengthAdjust="spacingAndGlyphs">t</text>
<text x="527.6" y="676" class="tx2" font-size="21" textLength="54.2" lengthAdjust="spacingAndGlyphs">(hour)</text>


<rect x="90.5" y="417.5" width="81" height="71" fill="#fff" stroke="#262626" stroke-width="1"/>
<path d="M95.3,428.5H131.4" stroke="#00ff00" stroke-width="2.6"/>
<path d="M95.3,449.6H104.9M114.5,449.6H124.2" stroke="#ff0000" stroke-width="2.6"/>
<path d="M95.3,474.5H131.4" stroke="#ff00ff" stroke-width="2.6" stroke-dasharray="2.5 2.4"/>
<text x="135" y="433.5" class="lg">r</text>
<path transform="translate(135,452.2) scale(0.0135,-0.0135)" d="M245,0H345V709H272C256,640 220,592 95,584V516H245Z" fill="#000"/><text x="142.5" y="452.2" class="lg">0 r</text>
<text x="160" y="460.8" class="lg" font-size="12.5">e</text>
<text x="135" y="477.2" class="lg">r</text>
<text x="139.5" y="485.2" class="lg" font-size="12.5">i</text>
<text transform="translate(50.8,90.4) rotate(-90)" text-anchor="middle" class="tx" font-size="19">G</text>
<text transform="translate(37.3,57.8) rotate(-90)" text-anchor="middle" class="tx" font-size="15.5" textLength="8.6" lengthAdjust="spacingAndGlyphs">g</text>
<text transform="translate(62.4,58.4) rotate(-90)" text-anchor="middle" class="tx" font-size="18">L</text>
<path d="M45.4,52.2V63.6" stroke="#000" stroke-width="0.9"/>
<path d="M28.8,48.4 C35.40,40.40 55.20,40.40 61.8,48.4" stroke="#000" stroke-width="1.25" fill="none"/>
<path d="M28.8,67.0 C35.40,75.27 55.20,75.27 61.8,67.0" stroke="#000" stroke-width="1.25" fill="none"/>
<text transform="translate(35.6,231.9) rotate(-90)" text-anchor="middle" class="tx" font-size="18">I</text>
<text transform="translate(23.4,191.7) rotate(-90)" text-anchor="middle" class="tx" font-size="18">mU</text>
<text transform="translate(48.2,192) rotate(-90)" text-anchor="middle" class="tx" font-size="18">L</text>
<path d="M31.1,177V206.4" stroke="#000" stroke-width="0.9"/>
<path d="M9.1,173.5 C17.78,162.57 43.82,162.57 52.5,173.5" stroke="#000" stroke-width="1.25" fill="none"/>
<path d="M9.1,209.3 C17.78,220.50 43.82,220.50 52.5,209.3" stroke="#000" stroke-width="1.25" fill="none"/>
<text transform="translate(26.3,360.1) rotate(-90)" text-anchor="middle" class="tx" font-size="18">E</text>
<text transform="translate(14.7,318.4) rotate(-90)" text-anchor="middle" class="tx" font-size="18">pM</text>
<text transform="translate(39.6,318.4) rotate(-90)" text-anchor="middle" class="tx" font-size="18">L</text>
<path d="M22.4,304.3V331.8" stroke="#000" stroke-width="0.9"/>
<path d="M0,301.2 C8.72,290.40 34.88,290.40 43.6,301.2" stroke="#000" stroke-width="1.25" fill="none"/>
<path d="M0,334.9 C8.72,345.70 34.88,345.70 43.6,334.9" stroke="#000" stroke-width="1.25" fill="none"/>
<text transform="translate(24.5,457.9) rotate(-90)" text-anchor="middle" class="tx" font-size="18.5" font-style="italic" style="stroke-width:0.15px" textLength="13.4" lengthAdjust="spacingAndGlyphs">R</text>
<path d="M31.6,441.6V473.1" stroke="#000" stroke-width="0.9"/>
<text transform="translate(49.4,466.4) rotate(-90)" text-anchor="middle" class="tx" font-size="18.5" font-style="italic" style="stroke-width:0.15px" textLength="13.4" lengthAdjust="spacingAndGlyphs">R</text>
<text transform="translate(43.5,450.7) rotate(-90)" text-anchor="middle" class="tx" font-size="13" textLength="15" lengthAdjust="spacingAndGlyphs">tot</text>
<text transform="translate(56.8,630.8) rotate(-90)" text-anchor="middle" class="tx" font-size="18.5" font-style="italic" style="stroke-width:0.15px" textLength="13" lengthAdjust="spacingAndGlyphs">F</text>
<text transform="translate(59.1,614) rotate(-90)" text-anchor="middle" class="tx" font-size="13" font-style="italic" style="stroke-width:0.15px" textLength="19" lengthAdjust="spacingAndGlyphs">hgp</text>
<path d="M40.6,545 C45.02,540.33 58.28,540.33 62.7,545" stroke="#000" stroke-width="1.25" fill="none"/>
<path d="M40.6,589.5 C45.02,596.03 58.28,596.03 62.7,589.5" stroke="#000" stroke-width="1.25" fill="none"/>
<text transform="translate(48.5,567.5) rotate(-90)" text-anchor="middle" class="tx" font-size="13">g</text>
<path d="M51.7,548.6V586" stroke="#000" stroke-width="0.9"/>
<text transform="translate(62,567.3) rotate(-90)" text-anchor="middle" class="tx" font-size="13" textLength="37" lengthAdjust="spacingAndGlyphs">L·hour</text>
</svg>
</body></html>
